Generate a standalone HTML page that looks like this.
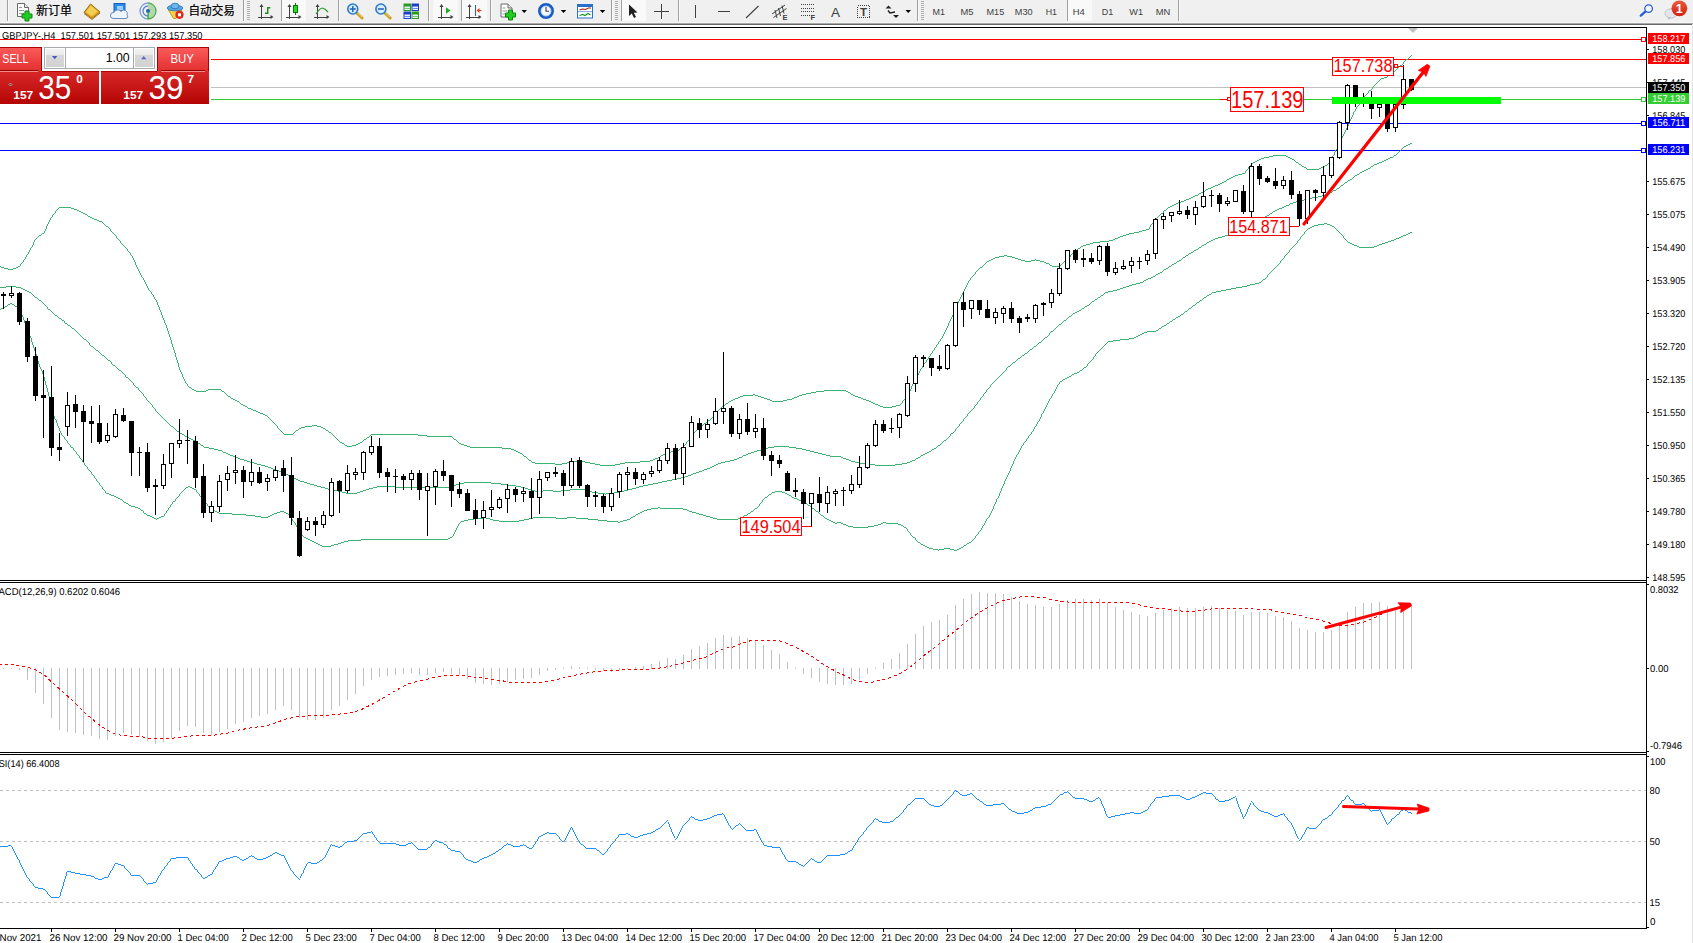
<!DOCTYPE html>
<html><head><meta charset="utf-8"><title>GBPJPY H4</title><style>html,body{margin:0;padding:0;background:#fff;overflow:hidden}svg{display:block}</style></head><body>
<svg width="1693" height="943" viewBox="0 0 1693 943" font-family="'Liberation Sans','Noto Sans CJK SC',sans-serif">
<defs><linearGradient id="gl" x1="0" y1="0" x2="0" y2="1"><stop offset="0" stop-color="#fb5a5a"/><stop offset="1" stop-color="#e23030"/></linearGradient><linearGradient id="gd" x1="0" y1="0" x2="0" y2="1"><stop offset="0" stop-color="#d92828"/><stop offset="1" stop-color="#b40404"/></linearGradient><linearGradient id="gb" x1="0" y1="0" x2="0" y2="1"><stop offset="0" stop-color="#f2f2f2"/><stop offset="0.3" stop-color="#ebebeb"/><stop offset="0.36" stop-color="#d8d8d8"/><stop offset="1" stop-color="#d2d2d2"/></linearGradient><linearGradient id="gbadge" x1="0" y1="0" x2="0" y2="1"><stop offset="0" stop-color="#e85a3a"/><stop offset="1" stop-color="#d42010"/></linearGradient><clipPath id="cpMain"><rect x="0" y="28" width="1646" height="552"/></clipPath></defs>
<rect x="0" y="0" width="1693" height="943" fill="#fff" />
<g>
<rect x="0" y="0" width="1693" height="23" fill="#f0f0f0"/>
<rect x="0" y="22" width="1693" height="1" fill="#f6f6f6" shape-rendering="crispEdges"/>
<rect x="0" y="23" width="1693" height="1" fill="#a8a8a8" shape-rendering="crispEdges"/>
<rect x="0" y="24" width="1693" height="1" fill="#696969" shape-rendering="crispEdges"/>
<rect x="7" y="0" width="1" height="21" fill="#a0a0a0" shape-rendering="crispEdges"/>
<rect x="8" y="0" width="1" height="21" fill="#fafafa" shape-rendering="crispEdges"/>
<path d="M17.5,3.5 h7 l4,4 v9 h-11 z" fill="#fff" stroke="#6a6a6a" stroke-width="1"/>
<path d="M24.5,3.5 v4 h4" fill="#e8e8e8" stroke="#6a6a6a" stroke-width="1"/>
<rect x="19" y="7" width="3" height="1" fill="#9a9a9a"/>
<rect x="19" y="10" width="5" height="1" fill="#9a9a9a"/>
<rect x="19" y="13" width="5" height="1" fill="#9a9a9a"/>
<path d="M25,11 h4 v3 h3 v4 h-3 v3 h-4 v-3 h-3 v-4 h3 z" fill="#22cc22" stroke="#0a8a0a" stroke-width="1"/>
<text x="36" y="14.7" font-size="12" fill="#000" textLength="36" stroke="#000" stroke-width="0.2" lengthAdjust="spacingAndGlyphs">新订单</text>
<polygon points="84,12.5 90.5,4 100,12 92,18.5" fill="#e2aa22" stroke="#9a6a10" stroke-width="1"/>
<polygon points="86,12 90.8,5.5 97.5,11.5 91.8,16" fill="#f4cf55"/>
<path d="M84,13.5 L92,19.5 L100,13" fill="none" stroke="#b07a18" stroke-width="1"/>
<rect x="114" y="3.5" width="11" height="9" fill="#2a8ae8" stroke="#1a60c0" stroke-width="1"/>
<rect x="117" y="6" width="6" height="4" fill="#9ad0ff"/>
<path d="M113,18.5 a3,3 0 0 1 1,-6 a4,4 0 0 1 7,-1 a3.5,3.5 0 0 1 6,3.5 a2,2 0 0 1 -1,3.5 z" fill="#eef4fc" stroke="#6a8ac0" stroke-width="1"/>
<g fill="none" stroke-width="1.3"><path d="M148,3 a8,8 0 0 0 0,16" stroke="#7a9ae0"/><path d="M148,6 a5,5 0 0 0 0,10" stroke="#5a80d8"/></g>
<path d="M148,11 L148,19 A8,8 0 0 0 153.5,5 A8,8 0 0 0 148,3 Z" fill="#a8d8a0" opacity="0.9"/>
<path d="M148,3 a8,8 0 0 1 0,16" fill="none" stroke="#58a858" stroke-width="1.3"/>
<circle cx="148" cy="11" r="2" fill="#2255cc"/>
<rect x="147.5" y="11" width="1.2" height="8" fill="#22aa22"/>
<polygon points="168.5,10 182,10 176,18.5 173.5,18.5" fill="#f6d44a" stroke="#c89a18" stroke-width="1"/>
<ellipse cx="175" cy="8" rx="7.8" ry="2.8" fill="#58a8e0" stroke="#2a70b8" stroke-width="0.8"/>
<ellipse cx="175" cy="6" rx="4" ry="2.8" fill="#6ab8ee" stroke="#2a70b8" stroke-width="0.8"/>
<circle cx="179.5" cy="14.8" r="4.1" fill="#dd2a1a"/>
<rect x="178" y="13.3" width="3" height="3" fill="#fff"/>
<text x="188.5" y="14.7" font-size="12" fill="#000" textLength="46.5" stroke="#000" stroke-width="0.2" lengthAdjust="spacingAndGlyphs">自动交易</text>
<rect x="243" y="0" width="1" height="21" fill="#a0a0a0" shape-rendering="crispEdges"/>
<rect x="244" y="0" width="1" height="21" fill="#fafafa" shape-rendering="crispEdges"/>
<rect x="247" y="1" width="3" height="1" fill="#b0b0b0" shape-rendering="crispEdges"/>
<rect x="247" y="3" width="3" height="1" fill="#b0b0b0" shape-rendering="crispEdges"/>
<rect x="247" y="5" width="3" height="1" fill="#b0b0b0" shape-rendering="crispEdges"/>
<rect x="247" y="7" width="3" height="1" fill="#b0b0b0" shape-rendering="crispEdges"/>
<rect x="247" y="9" width="3" height="1" fill="#b0b0b0" shape-rendering="crispEdges"/>
<rect x="247" y="11" width="3" height="1" fill="#b0b0b0" shape-rendering="crispEdges"/>
<rect x="247" y="13" width="3" height="1" fill="#b0b0b0" shape-rendering="crispEdges"/>
<rect x="247" y="15" width="3" height="1" fill="#b0b0b0" shape-rendering="crispEdges"/>
<rect x="247" y="17" width="3" height="1" fill="#b0b0b0" shape-rendering="crispEdges"/>
<rect x="247" y="19" width="3" height="1" fill="#b0b0b0" shape-rendering="crispEdges"/>
<g stroke="#404040" stroke-width="1" fill="none" shape-rendering="crispEdges"><line x1="261.5" y1="5" x2="261.5" y2="19"/><line x1="258" y1="17.0" x2="272" y2="17.0"/></g>
<polygon points="261.5,4 259.5,7 263.5,7" fill="#404040"/>
<polygon points="273.5,17.0 270.5,15.0 270.5,19.0" fill="#404040"/>
<g stroke="#1a8a1a" stroke-width="1.4" fill="none"><path d="M267.7,7 v7 M267.7,7.7 h2.6 M265,13.3 h2.7"/></g>
<rect x="281" y="0" width="1" height="21" fill="#a0a0a0" shape-rendering="crispEdges"/>
<rect x="282" y="0" width="1" height="21" fill="#fafafa" shape-rendering="crispEdges"/>
<rect x="283" y="0" width="23" height="21" fill="#f9f9f9"/>
<g stroke="#404040" stroke-width="1" fill="none" shape-rendering="crispEdges"><line x1="289.5" y1="5" x2="289.5" y2="19"/><line x1="286" y1="17.0" x2="300" y2="17.0"/></g>
<polygon points="289.5,4 287.5,7 291.5,7" fill="#404040"/>
<polygon points="301.5,17.0 298.5,15.0 298.5,19.0" fill="#404040"/>
<rect x="295" y="3" width="1" height="12" fill="#0a7a0a" shape-rendering="crispEdges"/>
<rect x="293.5" y="5.5" width="4" height="7" fill="#22dd22" stroke="#0a7a0a" stroke-width="1" shape-rendering="crispEdges"/>
<g stroke="#404040" stroke-width="1" fill="none" shape-rendering="crispEdges"><line x1="317.5" y1="5" x2="317.5" y2="19"/><line x1="314" y1="17.0" x2="328" y2="17.0"/></g>
<polygon points="317.5,4 315.5,7 319.5,7" fill="#404040"/>
<polygon points="329.5,17.0 326.5,15.0 326.5,19.0" fill="#404040"/>
<path d="M316,14 Q320,8 322.5,8 Q325,8.5 328,12" fill="none" stroke="#2a9a2a" stroke-width="1.2"/>
<rect x="338" y="0" width="1" height="21" fill="#a0a0a0" shape-rendering="crispEdges"/>
<rect x="339" y="0" width="1" height="21" fill="#fafafa" shape-rendering="crispEdges"/>
<line x1="356.8" y1="13" x2="362.1" y2="18" stroke="#c8a020" stroke-width="3" stroke-linecap="round"/>
<line x1="357.3" y1="12.8" x2="362.1" y2="17.3" stroke="#f0d878" stroke-width="1"/>
<circle cx="352.8" cy="9" r="5" fill="#d8ecfa" stroke="#2a7ad0" stroke-width="1.6"/>
<rect x="349.8" y="8.2" width="6" height="1.6" fill="#2a6ac0"/>
<rect x="352.0" y="6" width="1.6" height="6" fill="#2a6ac0"/>
<line x1="384.9" y1="13" x2="390.2" y2="18" stroke="#c8a020" stroke-width="3" stroke-linecap="round"/>
<line x1="385.4" y1="12.8" x2="390.2" y2="17.3" stroke="#f0d878" stroke-width="1"/>
<circle cx="380.9" cy="9" r="5" fill="#d8ecfa" stroke="#2a7ad0" stroke-width="1.6"/>
<rect x="377.9" y="8.2" width="6" height="1.6" fill="#2a6ac0"/>
<rect x="403.5" y="3.5" width="7.5" height="7.5" fill="#2a9a1a"/>
<rect x="404.5" y="6.5" width="5.5" height="3.5" fill="#e8f0ff"/>
<rect x="404.5" y="8.0" width="5.5" height="0.8" fill="#5ac040"/>
<rect x="411.5" y="3.5" width="7.5" height="7.5" fill="#1a40c8"/>
<rect x="412.5" y="6.5" width="5.5" height="3.5" fill="#e8f0ff"/>
<rect x="412.5" y="8.0" width="5.5" height="0.8" fill="#4a70e8"/>
<rect x="403.5" y="11.5" width="7.5" height="7.5" fill="#1a40c8"/>
<rect x="404.5" y="14.5" width="5.5" height="3.5" fill="#e8f0ff"/>
<rect x="404.5" y="16.0" width="5.5" height="0.8" fill="#4a70e8"/>
<rect x="411.5" y="11.5" width="7.5" height="7.5" fill="#2a9a1a"/>
<rect x="412.5" y="14.5" width="5.5" height="3.5" fill="#e8f0ff"/>
<rect x="412.5" y="16.0" width="5.5" height="0.8" fill="#5ac040"/>
<rect x="428" y="0" width="1" height="21" fill="#a0a0a0" shape-rendering="crispEdges"/>
<rect x="429" y="0" width="1" height="21" fill="#fafafa" shape-rendering="crispEdges"/>
<rect x="433" y="0" width="25" height="21" fill="#f9f9f9"/>
<g stroke="#404040" stroke-width="1" fill="none" shape-rendering="crispEdges"><line x1="441.5" y1="5" x2="441.5" y2="19"/><line x1="438" y1="17.0" x2="452" y2="17.0"/></g>
<polygon points="441.5,4 439.5,7 443.5,7" fill="#404040"/>
<polygon points="453.5,17.0 450.5,15.0 450.5,19.0" fill="#404040"/>
<polygon points="446,7.3 446,13.7 450.5,10.5" fill="#22aa22"/>
<rect x="461" y="0" width="1" height="21" fill="#a0a0a0" shape-rendering="crispEdges"/>
<rect x="462" y="0" width="1" height="21" fill="#fafafa" shape-rendering="crispEdges"/>
<rect x="463" y="0" width="24" height="21" fill="#f9f9f9"/>
<g stroke="#404040" stroke-width="1" fill="none" shape-rendering="crispEdges"><line x1="469.5" y1="5" x2="469.5" y2="19"/><line x1="466" y1="17.0" x2="480" y2="17.0"/></g>
<polygon points="469.5,4 467.5,7 471.5,7" fill="#404040"/>
<polygon points="481.5,17.0 478.5,15.0 478.5,19.0" fill="#404040"/>
<rect x="475" y="5" width="1" height="11" fill="#2060c0" shape-rendering="crispEdges"/>
<polygon points="476.5,10.5 479.5,8 479.5,13" fill="#e04010"/><rect x="479" y="10" width="2.5" height="1" fill="#e04010"/>
<rect x="490" y="0" width="1" height="21" fill="#a0a0a0" shape-rendering="crispEdges"/>
<rect x="491" y="0" width="1" height="21" fill="#fafafa" shape-rendering="crispEdges"/>
<path d="M501.0,4.0 h7 l4,4 v9 h-11 z" fill="#fff" stroke="#6a6a6a" stroke-width="1"/>
<path d="M508.0,4.0 v4 h4" fill="#e8e8e8" stroke="#6a6a6a" stroke-width="1"/>
<rect x="502.5" y="7.5" width="3" height="1" fill="#9a9a9a"/>
<rect x="502.5" y="10.5" width="5" height="1" fill="#9a9a9a"/>
<rect x="502.5" y="13.5" width="5" height="1" fill="#9a9a9a"/>
<path d="M508.5,10 h4 v3 h3 v4 h-3 v3 h-4 v-3 h-3 v-4 h3 z" fill="#22cc22" stroke="#0a8a0a" stroke-width="1"/>
<polygon points="521.5,10 527,10 524.25,13" fill="#000"/>
<circle cx="546" cy="11" r="6.6" fill="#fff" stroke="#1a5cc4" stroke-width="2.8"/>
<circle cx="546" cy="11" r="5" fill="#f4f8ff" stroke="#8ab8f4" stroke-width="0.8"/>
<path d="M546,7 v4.3 h3" fill="none" stroke="#404040" stroke-width="1.1"/>
<polygon points="560.8,10 566.3,10 563.55,13" fill="#000"/>
<rect x="577.5" y="4.5" width="15" height="13.5" fill="#fff" stroke="#2a70d0" stroke-width="1"/>
<rect x="577.5" y="4.5" width="15" height="2.5" fill="#2a70d0"/>
<rect x="578" y="11.3" width="14" height="0.8" fill="#5a90e0"/>
<path d="M579.5,10 l3,-1 l3,0.5 l3,-1.5 l2.5,0" fill="none" stroke="#b02010" stroke-width="1.2"/>
<path d="M579.5,15.5 l3,-1 l2.5,1 l3,-2 l2.5,1.5" fill="none" stroke="#1a9a1a" stroke-width="1.2"/>
<polygon points="599.8,10 605.3,10 602.55,13" fill="#000"/>
<rect x="611" y="0" width="1" height="21" fill="#a0a0a0" shape-rendering="crispEdges"/>
<rect x="612" y="0" width="1" height="21" fill="#fafafa" shape-rendering="crispEdges"/>
<rect x="615" y="1" width="3" height="1" fill="#b0b0b0" shape-rendering="crispEdges"/>
<rect x="615" y="3" width="3" height="1" fill="#b0b0b0" shape-rendering="crispEdges"/>
<rect x="615" y="5" width="3" height="1" fill="#b0b0b0" shape-rendering="crispEdges"/>
<rect x="615" y="7" width="3" height="1" fill="#b0b0b0" shape-rendering="crispEdges"/>
<rect x="615" y="9" width="3" height="1" fill="#b0b0b0" shape-rendering="crispEdges"/>
<rect x="615" y="11" width="3" height="1" fill="#b0b0b0" shape-rendering="crispEdges"/>
<rect x="615" y="13" width="3" height="1" fill="#b0b0b0" shape-rendering="crispEdges"/>
<rect x="615" y="15" width="3" height="1" fill="#b0b0b0" shape-rendering="crispEdges"/>
<rect x="615" y="17" width="3" height="1" fill="#b0b0b0" shape-rendering="crispEdges"/>
<rect x="615" y="19" width="3" height="1" fill="#b0b0b0" shape-rendering="crispEdges"/>
<rect x="621" y="0" width="1" height="21" fill="#a0a0a0" shape-rendering="crispEdges"/>
<rect x="622" y="0" width="1" height="21" fill="#fafafa" shape-rendering="crispEdges"/>
<rect x="623" y="0" width="23" height="21" fill="#f9f9f9"/>
<polygon points="629,4.5 629,16 631.8,13.6 634,18 636,17 633.8,12.8 637.5,12.6" fill="#202020"/>
<g fill="#404040" shape-rendering="crispEdges"><rect x="661" y="4" width="1" height="15"/><rect x="654" y="11" width="15" height="1"/></g>
<rect x="678" y="0" width="1" height="21" fill="#a0a0a0" shape-rendering="crispEdges"/>
<rect x="679" y="0" width="1" height="21" fill="#fafafa" shape-rendering="crispEdges"/>
<g fill="#404040" shape-rendering="crispEdges"><rect x="695" y="5" width="1" height="13"/><rect x="718" y="11" width="12" height="1"/></g>
<line x1="746" y1="18" x2="758.5" y2="6" stroke="#404040" stroke-width="1.1"/>
<g stroke="#404040" stroke-width="1" fill="none"><path d="M772,14 l13,-9 M773.5,17.5 l13,-9 M775,10 l2,8 M778.5,8 l2,8 M782,5.5 l2,8"/></g>
<text x="782.5" y="19.5" font-size="7.5" font-weight="bold" fill="#404040">E</text>
<line x1="801" y1="4.5" x2="814" y2="4.5" stroke="#404040" stroke-width="1" stroke-dasharray="1,1" shape-rendering="crispEdges"/>
<line x1="801" y1="8.5" x2="814" y2="8.5" stroke="#404040" stroke-width="1" stroke-dasharray="1,1" shape-rendering="crispEdges"/>
<line x1="801" y1="11.5" x2="814" y2="11.5" stroke="#404040" stroke-width="1" stroke-dasharray="1,1" shape-rendering="crispEdges"/>
<line x1="801" y1="15.5" x2="814" y2="15.5" stroke="#404040" stroke-width="1" stroke-dasharray="1,1" shape-rendering="crispEdges"/>
<text x="810.5" y="19.5" font-size="7.5" font-weight="bold" fill="#404040">F</text>
<text x="831" y="16.5" font-size="13.5" fill="#404040">A</text>
<rect x="857.5" y="5.5" width="12" height="12" fill="none" stroke="#404040" stroke-width="1" stroke-dasharray="1,1" shape-rendering="crispEdges"/>
<text x="860" y="16" font-size="11.5" font-weight="bold" fill="#404040">T</text>
<path d="M885.5,8.5 l3,-3 l3,3 z M893,15 l3,3 l3,-3 z" fill="#202020"/>
<path d="M888,10.5 l2,2.5 l5,-1" fill="none" stroke="#202020" stroke-width="1.4"/>
<polygon points="905.5,10 911,10 908.25,13" fill="#000"/>
<rect x="917" y="0" width="1" height="21" fill="#a0a0a0" shape-rendering="crispEdges"/>
<rect x="918" y="0" width="1" height="21" fill="#fafafa" shape-rendering="crispEdges"/>
<rect x="921" y="1" width="3" height="1" fill="#b0b0b0" shape-rendering="crispEdges"/>
<rect x="921" y="3" width="3" height="1" fill="#b0b0b0" shape-rendering="crispEdges"/>
<rect x="921" y="5" width="3" height="1" fill="#b0b0b0" shape-rendering="crispEdges"/>
<rect x="921" y="7" width="3" height="1" fill="#b0b0b0" shape-rendering="crispEdges"/>
<rect x="921" y="9" width="3" height="1" fill="#b0b0b0" shape-rendering="crispEdges"/>
<rect x="921" y="11" width="3" height="1" fill="#b0b0b0" shape-rendering="crispEdges"/>
<rect x="921" y="13" width="3" height="1" fill="#b0b0b0" shape-rendering="crispEdges"/>
<rect x="921" y="15" width="3" height="1" fill="#b0b0b0" shape-rendering="crispEdges"/>
<rect x="921" y="17" width="3" height="1" fill="#b0b0b0" shape-rendering="crispEdges"/>
<rect x="921" y="19" width="3" height="1" fill="#b0b0b0" shape-rendering="crispEdges"/>
<text x="932.5" y="15" font-size="9.8" fill="#404040" textLength="12.5" lengthAdjust="spacingAndGlyphs">M1</text>
<text x="960.5" y="15" font-size="9.8" fill="#404040" textLength="13" lengthAdjust="spacingAndGlyphs">M5</text>
<text x="986.5" y="15" font-size="9.8" fill="#404040" textLength="17.8" lengthAdjust="spacingAndGlyphs">M15</text>
<text x="1014.8" y="15" font-size="9.8" fill="#404040" textLength="17.8" lengthAdjust="spacingAndGlyphs">M30</text>
<text x="1045.7" y="15" font-size="9.8" fill="#404040" textLength="11.3" lengthAdjust="spacingAndGlyphs">H1</text>
<rect x="1067" y="0" width="1" height="21" fill="#a0a0a0" shape-rendering="crispEdges"/>
<rect x="1068" y="0" width="1" height="21" fill="#fafafa" shape-rendering="crispEdges"/>
<rect x="1069" y="0" width="23" height="21" fill="#f9f9f9"/>
<text x="1072.7" y="15" font-size="9.8" fill="#404040" textLength="12" lengthAdjust="spacingAndGlyphs">H4</text>
<text x="1101.8" y="15" font-size="9.8" fill="#404040" textLength="11.5" lengthAdjust="spacingAndGlyphs">D1</text>
<text x="1129.3" y="15" font-size="9.8" fill="#404040" textLength="13.7" lengthAdjust="spacingAndGlyphs">W1</text>
<text x="1155.8" y="15" font-size="9.8" fill="#404040" textLength="14.6" lengthAdjust="spacingAndGlyphs">MN</text>
<rect x="1178" y="0" width="1" height="21" fill="#a0a0a0" shape-rendering="crispEdges"/>
<rect x="1179" y="0" width="1" height="21" fill="#fafafa" shape-rendering="crispEdges"/>
<line x1="1640.8" y1="15.6" x2="1645.6" y2="11.4" stroke="#2a60d0" stroke-width="2.4" stroke-linecap="round"/>
<circle cx="1648.6" cy="8.6" r="3.8" fill="#f4f6ff" stroke="#2a60d0" stroke-width="1.3"/>
<ellipse cx="1671" cy="13.5" rx="6" ry="4.6" fill="#e4e6ee" stroke="#b8b8c0" stroke-width="0.8"/>
<polygon points="1668,17 1668.3,19.7 1671,17.5" fill="#b8b8c0"/>
<circle cx="1679.4" cy="8.3" r="7.9" fill="url(#gbadge)"/>
<text x="1679.3" y="13" font-size="12.5" font-weight="bold" fill="#fff" text-anchor="middle">1</text>
</g>
<g shape-rendering="crispEdges">
<rect x="0" y="27" width="1647" height="1" fill="#000" />
<rect x="1646" y="27" width="1" height="902" fill="#000" />
<rect x="0" y="580" width="1647" height="1" fill="#000" />
<rect x="0" y="582" width="1647" height="1" fill="#000" />
<rect x="0" y="752" width="1647" height="1" fill="#000" />
<rect x="0" y="754" width="1647" height="1" fill="#000" />
<rect x="0" y="928" width="1647" height="1" fill="#000" />
<rect x="1692" y="24" width="1" height="919" fill="#e3e3e3" />
</g>
<g clip-path="url(#cpMain)">
<g shape-rendering="crispEdges">
<rect x="0" y="39" width="1646" height="1" fill="#ff0000" />
<rect x="0" y="59" width="1646" height="1" fill="#ff0000" />
<rect x="0" y="87" width="1646" height="1" fill="#c0c0c0" />
<rect x="0" y="99" width="1646" height="1" fill="#32cd32" />
<rect x="0" y="123" width="1646" height="1" fill="#0000ff" />
<rect x="0" y="150" width="1646" height="1" fill="#0000ff" />
</g>
<g shape-rendering="crispEdges">
<path d="M1 267.5h3M4 268.5h4M8 269.5h5M13 268.5h3M16 267.5h2M18 266.5h2M39 235.5h2M42 233.5h2M59 207.5h12M71 208.5h3M74 209.5h3M77 210.5h2M79 211.5h2M81 212.5h2M83 213.5h2M85 214.5h2M88 216.5h2M90 217.5h2M92 218.5h2M94 219.5h3M97 220.5h2M99 221.5h3M106 226.5h2M189 387.5h2M192 389.5h2M194 390.5h2M196 391.5h10M206 390.5h2M208 389.5h13M222 391.5h2M228 396.5h2M231 398.5h2M233 399.5h2M235 400.5h2M237 401.5h2M241 404.5h2M243 405.5h2M245 406.5h2M248 408.5h3M251 409.5h2M253 410.5h3M256 411.5h2M258 412.5h2M260 413.5h3M263 414.5h2M265 415.5h2M284 434.5h9M296 430.5h2M299 428.5h2M301 427.5h4M305 426.5h7M312 425.5h5M317 426.5h4M321 427.5h2M323 428.5h2M326 430.5h2M329 432.5h2M340 442.5h2M342 443.5h2M345 445.5h2M347 446.5h5M352 445.5h4M356 444.5h2M358 443.5h2M360 442.5h2M364 439.5h2M367 437.5h2M371 434.5h47M418 435.5h9M427 436.5h25M454 439.5h2M459 443.5h2M461 444.5h3M464 445.5h3M467 446.5h3M470 447.5h32M502 448.5h9M511 449.5h3M514 450.5h2M516 451.5h2M518 452.5h2M520 453.5h2M524 456.5h2M529 460.5h2M532 462.5h3M535 463.5h20M555 464.5h7M562 463.5h5M567 462.5h6M573 461.5h12M585 462.5h5M590 463.5h5M595 464.5h5M600 465.5h15M615 464.5h5M620 463.5h5M625 462.5h15M640 461.5h10M650 460.5h3M653 459.5h2M655 458.5h3M658 457.5h2M661 455.5h2M663 454.5h2M665 453.5h2M667 452.5h4M671 451.5h5M676 450.5h3M681 447.5h2M701 425.5h2M704 423.5h2M708 420.5h2M722 406.5h2M726 403.5h2M729 401.5h2M731 400.5h2M733 399.5h2M735 398.5h3M738 397.5h2M740 396.5h3M743 395.5h10M753 394.5h2M755 395.5h3M758 396.5h3M761 397.5h3M764 398.5h3M767 399.5h3M770 400.5h2M772 401.5h11M783 400.5h4M787 399.5h5M792 398.5h2M794 397.5h3M797 396.5h2M799 395.5h3M802 394.5h4M806 393.5h5M811 392.5h5M816 391.5h8M824 390.5h22M846 391.5h2M848 392.5h2M851 394.5h2M853 395.5h2M855 396.5h3M858 397.5h3M861 398.5h2M863 399.5h3M866 400.5h3M869 401.5h2M871 402.5h2M873 403.5h2M875 404.5h3M878 405.5h2M880 406.5h3M883 407.5h9M892 406.5h4M896 405.5h4M980 267.5h2M987 261.5h2M989 260.5h2M991 259.5h2M993 258.5h2M995 257.5h4M999 256.5h5M1004 255.5h3M1007 256.5h5M1012 257.5h3M1015 258.5h3M1018 259.5h3M1021 260.5h4M1025 261.5h6M1031 260.5h4M1036 260.5h4M1040 261.5h4M1044 262.5h2M1046 263.5h3M1050 265.5h2M1052 266.5h8M1068 257.5h2M1075 250.5h2M1078 248.5h2M1081 246.5h2M1083 245.5h3M1086 244.5h4M1090 243.5h3M1093 242.5h7M1100 241.5h9M1109 240.5h4M1113 239.5h2M1115 238.5h3M1118 237.5h2M1120 236.5h3M1123 235.5h3M1126 234.5h3M1129 233.5h5M1134 232.5h5M1139 231.5h3M1142 230.5h4M1146 229.5h3M1161 213.5h2M1164 210.5h2M1168 207.5h2M1170 206.5h2M1172 205.5h2M1174 204.5h2M1176 203.5h2M1178 202.5h3M1181 201.5h3M1184 200.5h2M1186 199.5h3M1189 198.5h2M1191 197.5h2M1193 196.5h2M1195 195.5h3M1199 193.5h2M1201 192.5h2M1203 191.5h2M1206 189.5h2M1208 188.5h3M1211 187.5h2M1213 186.5h2M1215 185.5h3M1218 184.5h2M1220 183.5h2M1222 182.5h2M1224 181.5h2M1227 179.5h2M1229 178.5h2M1231 177.5h2M1233 176.5h2M1235 175.5h3M1238 174.5h4M1242 173.5h3M1253 162.5h2M1255 161.5h2M1257 160.5h2M1259 159.5h2M1261 158.5h3M1264 157.5h5M1269 156.5h4M1273 155.5h13M1286 156.5h2M1288 157.5h2M1290 158.5h2M1292 159.5h2M1296 162.5h2M1299 164.5h2M1302 166.5h2M1304 167.5h2M1307 169.5h12M1319 168.5h2M1321 167.5h2M1323 166.5h2M1325 165.5h2M1369 90.5h2M1381 78.5h3M1384 77.5h3M1389 74.5h2M1393 71.5h2M1400 65.5h2M1406 59.5h2M0.5 266v1M20.5 264v2M21.5 263v1M22.5 262v1M23.5 260v2M24.5 259v1M25.5 257v2M26.5 255v2M27.5 254v1M28.5 252v2M29.5 250v2M30.5 248v2M31.5 247v1M32.5 245v2M33.5 242v3M34.5 240v2M35.5 239v1M36.5 238v1M37.5 237v1M38.5 236v1M41.5 234v1M44.5 231v2M45.5 229v2M46.5 226v3M47.5 224v2M48.5 222v2M49.5 220v2M50.5 218v2M51.5 217v1M52.5 215v2M53.5 214v1M54.5 213v1M55.5 211v2M56.5 210v1M57.5 209v1M58.5 208v1M87.5 215v1M102.5 222v1M103.5 223v1M104.5 224v1M105.5 225v1M108.5 227v1M109.5 228v1M110.5 229v2M111.5 231v1M112.5 232v1M113.5 233v1M114.5 234v1M115.5 235v1M116.5 236v2M117.5 238v1M118.5 239v1M119.5 240v1M120.5 241v2M121.5 243v1M122.5 244v1M123.5 245v1M124.5 246v1M125.5 247v1M126.5 248v1M127.5 249v2M128.5 251v1M129.5 252v1M130.5 253v2M131.5 255v1M132.5 256v2M133.5 258v2M134.5 260v2M135.5 262v3M136.5 265v2M137.5 267v2M138.5 269v2M139.5 271v2M140.5 273v2M141.5 275v2M142.5 277v1M143.5 278v2M144.5 280v2M145.5 282v2M146.5 284v2M147.5 286v2M148.5 288v2M149.5 290v1M150.5 291v1M151.5 292v2M152.5 294v1M153.5 295v2M154.5 297v2M155.5 299v1M156.5 300v2M157.5 302v3M158.5 305v2M159.5 307v3M160.5 310v2M161.5 312v3M162.5 315v3M163.5 318v2M164.5 320v3M165.5 323v2M166.5 325v3M167.5 328v3M168.5 331v3M169.5 334v3M170.5 337v3M171.5 340v4M172.5 344v3M173.5 347v3M174.5 350v3M175.5 353v4M176.5 357v3M177.5 360v3M178.5 363v4M179.5 367v3M180.5 370v2M181.5 372v2M182.5 374v3M183.5 377v2M184.5 379v2M185.5 381v2M186.5 383v1M187.5 384v2M188.5 386v1M191.5 388v1M221.5 390v1M224.5 392v1M225.5 393v1M226.5 394v1M227.5 395v1M230.5 397v1M239.5 402v1M240.5 403v1M247.5 407v1M267.5 416v1M268.5 417v1M269.5 418v1M270.5 419v1M271.5 420v1M272.5 421v1M273.5 422v1M274.5 423v1M275.5 424v1M276.5 425v1M277.5 426v2M278.5 428v1M279.5 429v1M280.5 430v1M281.5 431v1M282.5 432v1M283.5 433v1M293.5 433v1M294.5 432v1M295.5 431v1M298.5 429v1M325.5 429v1M328.5 431v1M331.5 433v1M332.5 434v1M333.5 435v1M334.5 436v1M335.5 437v1M336.5 438v1M337.5 439v1M338.5 440v1M339.5 441v1M344.5 444v1M362.5 441v1M363.5 440v1M366.5 438v1M369.5 436v1M370.5 435v1M452.5 437v1M453.5 438v1M456.5 440v1M457.5 441v1M458.5 442v1M522.5 454v1M523.5 455v1M526.5 457v1M527.5 458v1M528.5 459v1M531.5 461v1M660.5 456v1M679.5 449v1M680.5 448v1M683.5 446v1M684.5 445v1M685.5 444v1M686.5 442v2M687.5 441v1M688.5 440v1M689.5 439v1M690.5 437v2M691.5 436v1M692.5 435v1M693.5 433v2M694.5 432v1M695.5 431v1M696.5 430v1M697.5 429v1M698.5 428v1M699.5 427v1M700.5 426v1M703.5 424v1M706.5 422v1M707.5 421v1M710.5 419v1M711.5 418v1M712.5 417v1M713.5 415v2M714.5 414v1M715.5 413v1M716.5 412v1M717.5 411v1M718.5 410v1M719.5 409v1M720.5 408v1M721.5 407v1M724.5 405v1M725.5 404v1M728.5 402v1M850.5 393v1M900.5 404v1M901.5 403v1M902.5 401v2M903.5 400v1M904.5 399v1M905.5 397v2M906.5 396v1M907.5 395v1M908.5 393v2M909.5 391v2M910.5 389v2M911.5 386v3M912.5 384v2M913.5 383v1M914.5 381v2M915.5 379v2M916.5 377v2M917.5 375v2M918.5 373v2M919.5 371v2M920.5 369v2M921.5 368v1M922.5 366v2M923.5 364v2M924.5 363v1M925.5 362v1M926.5 360v2M927.5 359v1M928.5 357v2M929.5 356v1M930.5 354v2M931.5 353v1M932.5 351v2M933.5 350v1M934.5 348v2M935.5 347v1M936.5 345v2M937.5 344v1M938.5 342v2M939.5 341v1M940.5 339v2M941.5 338v1M942.5 336v2M943.5 334v2M944.5 332v2M945.5 330v2M946.5 328v2M947.5 326v2M948.5 323v3M949.5 321v2M950.5 319v2M951.5 317v2M952.5 315v2M953.5 312v3M954.5 310v2M955.5 308v2M956.5 305v3M957.5 303v2M958.5 301v2M959.5 299v2M960.5 297v2M961.5 295v2M962.5 293v2M963.5 291v2M964.5 289v2M965.5 287v2M966.5 285v2M967.5 283v2M968.5 281v2M969.5 280v1M970.5 278v2M971.5 277v1M972.5 276v1M973.5 275v1M974.5 274v1M975.5 272v2M976.5 271v1M977.5 270v1M978.5 269v1M979.5 268v1M982.5 266v1M983.5 265v1M984.5 264v1M985.5 263v1M986.5 262v1M1035.5 259v1M1049.5 264v1M1060.5 265v1M1061.5 264v1M1062.5 263v1M1063.5 262v1M1064.5 261v1M1065.5 260v1M1066.5 259v1M1067.5 258v1M1070.5 255v2M1071.5 254v1M1072.5 253v1M1073.5 252v1M1074.5 251v1M1077.5 249v1M1080.5 247v1M1149.5 227v2M1150.5 225v2M1151.5 224v1M1152.5 223v1M1153.5 221v2M1154.5 220v1M1155.5 219v1M1156.5 218v1M1157.5 217v1M1158.5 216v1M1159.5 215v1M1160.5 214v1M1163.5 211v2M1166.5 209v1M1167.5 208v1M1198.5 194v1M1205.5 190v1M1226.5 180v1M1245.5 171v2M1246.5 170v1M1247.5 169v1M1248.5 167v2M1249.5 166v1M1250.5 165v1M1251.5 164v1M1252.5 163v1M1294.5 160v1M1295.5 161v1M1298.5 163v1M1301.5 165v1M1306.5 168v1M1327.5 164v1M1328.5 163v1M1329.5 161v2M1330.5 160v1M1331.5 158v2M1332.5 156v2M1333.5 155v1M1334.5 152v3M1335.5 150v2M1336.5 149v1M1337.5 147v2M1338.5 144v3M1339.5 142v2M1340.5 140v2M1341.5 138v2M1342.5 136v2M1343.5 134v2M1344.5 132v2M1345.5 130v2M1346.5 128v2M1347.5 126v2M1348.5 124v2M1349.5 121v3M1350.5 119v2M1351.5 117v2M1352.5 115v2M1353.5 112v3M1354.5 111v1M1355.5 109v2M1356.5 107v2M1357.5 106v1M1358.5 105v1M1359.5 103v2M1360.5 102v1M1361.5 100v2M1362.5 99v1M1363.5 98v1M1364.5 96v2M1365.5 95v1M1366.5 94v1M1367.5 93v1M1368.5 91v2M1371.5 89v1M1372.5 87v2M1373.5 86v1M1374.5 85v1M1375.5 84v1M1376.5 83v1M1377.5 82v1M1378.5 81v1M1379.5 80v1M1380.5 79v1M1387.5 76v1M1388.5 75v1M1391.5 73v1M1392.5 72v1M1395.5 70v1M1396.5 69v1M1397.5 68v1M1398.5 67v1M1399.5 66v1M1402.5 64v1M1403.5 62v2M1404.5 61v1M1405.5 60v1M1408.5 58v1M1409.5 57v1M1410.5 56v1M1411.5 55v1" fill="none" stroke="#3cb371" stroke-width="1" shape-rendering="crispEdges"/>
<path d="M0 287.5h6M6 286.5h10M16 287.5h5M21 288.5h2M23 289.5h2M25 290.5h2M27 291.5h2M29 292.5h2M35 297.5h2M39 300.5h2M48 309.5h2M55 315.5h2M59 318.5h2M62 320.5h2M65 323.5h2M68 325.5h2M72 328.5h2M84 339.5h2M91 346.5h2M96 350.5h2M102 355.5h2M108 360.5h2M113 365.5h2M119 370.5h2M126 377.5h2M136 387.5h2M171 426.5h2M177 431.5h2M180 433.5h2M182 434.5h2M185 436.5h2M187 437.5h2M189 438.5h2M191 439.5h2M193 440.5h2M196 442.5h2M198 443.5h2M201 445.5h2M204 447.5h5M209 448.5h5M214 449.5h4M218 450.5h4M223 452.5h3M226 453.5h2M228 454.5h2M230 455.5h3M233 456.5h2M235 457.5h3M238 458.5h2M240 459.5h4M244 460.5h3M247 461.5h3M250 462.5h4M254 463.5h3M257 464.5h4M261 465.5h4M265 466.5h3M268 467.5h3M271 468.5h2M273 469.5h3M276 470.5h3M279 471.5h3M282 472.5h2M285 474.5h3M288 475.5h2M290 476.5h2M292 477.5h2M294 478.5h2M296 479.5h2M298 480.5h2M300 481.5h4M304 482.5h3M307 483.5h3M310 484.5h4M314 485.5h3M317 486.5h4M321 487.5h4M325 488.5h3M328 489.5h5M333 490.5h5M338 491.5h4M342 492.5h4M346 493.5h11M357 492.5h3M360 491.5h3M363 490.5h3M366 489.5h3M369 488.5h4M373 487.5h4M377 486.5h19M396 487.5h54M450 486.5h3M453 485.5h3M456 484.5h4M460 483.5h4M464 482.5h27M491 483.5h10M501 484.5h7M508 485.5h8M516 486.5h5M521 487.5h4M525 488.5h3M528 489.5h4M532 490.5h3M535 491.5h8M543 490.5h10M553 491.5h8M561 490.5h9M570 489.5h15M585 490.5h3M588 491.5h4M592 492.5h6M598 493.5h7M606 493.5h8M614 492.5h6M620 491.5h4M624 490.5h4M628 489.5h4M632 488.5h4M636 487.5h3M639 486.5h4M643 485.5h5M648 484.5h5M653 483.5h5M658 482.5h4M662 481.5h5M667 480.5h5M672 479.5h5M677 478.5h4M681 477.5h4M685 476.5h3M688 475.5h3M691 474.5h2M693 473.5h3M696 472.5h3M699 471.5h3M702 470.5h2M704 469.5h3M707 468.5h3M710 467.5h2M712 466.5h2M714 465.5h2M716 464.5h2M718 463.5h3M721 462.5h4M725 461.5h5M730 460.5h4M734 459.5h3M737 458.5h2M739 457.5h3M743 455.5h3M746 454.5h2M748 453.5h3M751 452.5h3M754 451.5h3M757 450.5h4M761 449.5h3M764 448.5h4M768 447.5h6M774 446.5h15M789 447.5h7M796 448.5h6M802 449.5h4M806 450.5h4M810 451.5h4M814 452.5h4M818 453.5h4M822 454.5h4M826 455.5h4M830 456.5h11M841 457.5h2M843 458.5h3M846 459.5h3M849 460.5h2M851 461.5h4M855 462.5h4M859 463.5h8M867 464.5h8M875 465.5h20M895 464.5h7M902 463.5h5M907 462.5h3M910 461.5h2M912 460.5h3M916 458.5h2M918 457.5h2M921 455.5h2M923 454.5h2M925 453.5h2M927 452.5h2M929 451.5h2M932 449.5h2M934 448.5h2M938 445.5h2M944 440.5h2M951 433.5h2M1008 366.5h2M1013 362.5h2M1018 358.5h2M1022 355.5h2M1025 353.5h2M1030 349.5h2M1034 346.5h2M1039 342.5h2M1045 337.5h2M1051 331.5h2M1059 324.5h2M1064 320.5h2M1069 316.5h2M1073 313.5h2M1075 312.5h2M1077 311.5h2M1079 310.5h2M1082 308.5h2M1085 306.5h2M1087 305.5h2M1092 301.5h2M1095 299.5h2M1098 297.5h2M1101 295.5h2M1105 292.5h3M1108 291.5h5M1113 290.5h4M1117 289.5h3M1120 288.5h3M1123 287.5h3M1126 286.5h3M1129 285.5h3M1132 284.5h4M1136 283.5h4M1140 282.5h3M1144 280.5h2M1146 279.5h2M1148 278.5h3M1151 277.5h2M1153 276.5h2M1156 274.5h2M1158 273.5h2M1160 272.5h2M1164 269.5h2M1166 268.5h2M1169 266.5h2M1172 264.5h2M1174 263.5h2M1177 261.5h2M1179 260.5h2M1183 257.5h2M1186 255.5h2M1189 253.5h2M1191 252.5h2M1194 250.5h2M1196 249.5h2M1199 247.5h2M1202 245.5h2M1204 244.5h2M1207 242.5h2M1209 241.5h2M1211 240.5h2M1213 239.5h2M1215 238.5h3M1218 237.5h4M1222 236.5h3M1225 235.5h3M1228 234.5h4M1232 233.5h4M1236 232.5h4M1240 231.5h3M1243 230.5h2M1246 228.5h2M1249 226.5h2M1251 225.5h2M1253 224.5h2M1256 222.5h2M1259 220.5h2M1262 218.5h2M1265 216.5h2M1267 215.5h2M1270 213.5h2M1273 211.5h2M1275 210.5h2M1277 209.5h2M1279 208.5h3M1282 207.5h2M1284 206.5h2M1286 205.5h3M1290 203.5h3M1293 202.5h3M1296 201.5h4M1300 200.5h4M1304 199.5h4M1308 198.5h4M1312 197.5h6M1318 196.5h4M1322 195.5h3M1325 194.5h2M1327 193.5h3M1330 192.5h2M1333 190.5h3M1337 188.5h2M1341 185.5h2M1345 182.5h2M1348 180.5h2M1350 179.5h2M1355 175.5h2M1357 174.5h2M1360 172.5h2M1362 171.5h2M1364 170.5h2M1366 169.5h2M1368 168.5h2M1371 166.5h2M1374 164.5h3M1377 163.5h2M1379 162.5h3M1382 161.5h2M1384 160.5h2M1386 159.5h2M1388 158.5h2M1390 157.5h3M1394 155.5h2M1404 146.5h2M1406 145.5h2M1408 144.5h2M1410 143.5h2M31.5 293v1M32.5 294v1M33.5 295v1M34.5 296v1M37.5 298v1M38.5 299v1M41.5 301v1M42.5 302v1M43.5 303v1M44.5 304v1M45.5 305v1M46.5 306v1M47.5 307v2M50.5 310v1M51.5 311v1M52.5 312v1M53.5 313v1M54.5 314v1M57.5 316v1M58.5 317v1M61.5 319v1M64.5 321v2M67.5 324v1M70.5 326v1M71.5 327v1M74.5 329v1M75.5 330v1M76.5 331v1M77.5 332v1M78.5 333v1M79.5 334v1M80.5 335v1M81.5 336v1M82.5 337v1M83.5 338v1M86.5 340v1M87.5 341v1M88.5 342v1M89.5 343v2M90.5 345v1M93.5 347v1M94.5 348v1M95.5 349v1M98.5 351v1M99.5 352v1M100.5 353v1M101.5 354v1M104.5 356v1M105.5 357v1M106.5 358v1M107.5 359v1M110.5 361v1M111.5 362v2M112.5 364v1M115.5 366v1M116.5 367v1M117.5 368v1M118.5 369v1M121.5 371v1M122.5 372v1M123.5 373v1M124.5 374v1M125.5 375v2M128.5 378v1M129.5 379v1M130.5 380v1M131.5 381v1M132.5 382v1M133.5 383v2M134.5 385v1M135.5 386v1M138.5 388v2M139.5 390v1M140.5 391v1M141.5 392v1M142.5 393v1M143.5 394v2M144.5 396v1M145.5 397v1M146.5 398v2M147.5 400v1M148.5 401v1M149.5 402v1M150.5 403v1M151.5 404v1M152.5 405v2M153.5 407v1M154.5 408v1M155.5 409v2M156.5 411v1M157.5 412v1M158.5 413v1M159.5 414v1M160.5 415v1M161.5 416v1M162.5 417v1M163.5 418v1M164.5 419v1M165.5 420v1M166.5 421v1M167.5 422v1M168.5 423v1M169.5 424v1M170.5 425v1M173.5 427v1M174.5 428v1M175.5 429v1M176.5 430v1M179.5 432v1M184.5 435v1M195.5 441v1M200.5 444v1M203.5 446v1M222.5 451v1M284.5 473v1M605.5 494v1M742.5 456v1M915.5 459v1M920.5 456v1M931.5 450v1M936.5 447v1M937.5 446v1M940.5 444v1M941.5 443v1M942.5 442v1M943.5 441v1M946.5 439v1M947.5 438v1M948.5 437v1M949.5 436v1M950.5 434v2M953.5 432v1M954.5 431v1M955.5 429v2M956.5 428v1M957.5 427v1M958.5 426v1M959.5 424v2M960.5 423v1M961.5 422v1M962.5 421v1M963.5 419v2M964.5 418v1M965.5 417v1M966.5 416v1M967.5 414v2M968.5 413v1M969.5 412v1M970.5 411v1M971.5 410v1M972.5 409v1M973.5 408v1M974.5 406v2M975.5 405v1M976.5 404v1M977.5 402v2M978.5 401v1M979.5 400v1M980.5 398v2M981.5 397v1M982.5 396v1M983.5 394v2M984.5 393v1M985.5 392v1M986.5 390v2M987.5 389v1M988.5 388v1M989.5 387v1M990.5 385v2M991.5 384v1M992.5 383v1M993.5 382v1M994.5 381v1M995.5 380v1M996.5 379v1M997.5 378v1M998.5 377v1M999.5 376v1M1000.5 375v1M1001.5 374v1M1002.5 373v1M1003.5 372v1M1004.5 371v1M1005.5 370v1M1006.5 368v2M1007.5 367v1M1010.5 365v1M1011.5 364v1M1012.5 363v1M1015.5 361v1M1016.5 360v1M1017.5 359v1M1020.5 357v1M1021.5 356v1M1024.5 354v1M1027.5 352v1M1028.5 351v1M1029.5 350v1M1032.5 348v1M1033.5 347v1M1036.5 345v1M1037.5 344v1M1038.5 343v1M1041.5 341v1M1042.5 340v1M1043.5 339v1M1044.5 338v1M1047.5 336v1M1048.5 335v1M1049.5 333v2M1050.5 332v1M1053.5 330v1M1054.5 329v1M1055.5 328v1M1056.5 327v1M1057.5 326v1M1058.5 325v1M1061.5 323v1M1062.5 322v1M1063.5 321v1M1066.5 319v1M1067.5 318v1M1068.5 317v1M1071.5 315v1M1072.5 314v1M1081.5 309v1M1084.5 307v1M1089.5 304v1M1090.5 303v1M1091.5 302v1M1094.5 300v1M1097.5 298v1M1100.5 296v1M1103.5 294v1M1104.5 293v1M1143.5 281v1M1155.5 275v1M1162.5 271v1M1163.5 270v1M1168.5 267v1M1171.5 265v1M1176.5 262v1M1181.5 259v1M1182.5 258v1M1185.5 256v1M1188.5 254v1M1193.5 251v1M1198.5 248v1M1201.5 246v1M1206.5 243v1M1245.5 229v1M1248.5 227v1M1255.5 223v1M1258.5 221v1M1261.5 219v1M1264.5 217v1M1269.5 214v1M1272.5 212v1M1289.5 204v1M1332.5 191v1M1336.5 189v1M1339.5 187v1M1340.5 186v1M1343.5 184v1M1344.5 183v1M1347.5 181v1M1352.5 178v1M1353.5 177v1M1354.5 176v1M1359.5 173v1M1370.5 167v1M1373.5 165v1M1393.5 156v1M1396.5 154v1M1397.5 153v1M1398.5 152v1M1399.5 151v1M1400.5 150v1M1401.5 149v1M1402.5 148v1M1403.5 147v1" fill="none" stroke="#3cb371" stroke-width="1" shape-rendering="crispEdges"/>
<path d="M1 308.5h2M3 307.5h2M5 306.5h2M8 304.5h2M10 303.5h2M12 304.5h2M15 306.5h2M71 447.5h2M106 493.5h3M109 494.5h2M111 495.5h3M114 496.5h2M116 497.5h2M118 498.5h2M120 499.5h2M124 502.5h2M126 503.5h2M129 505.5h2M131 506.5h4M135 507.5h3M138 508.5h2M141 510.5h2M144 513.5h2M147 515.5h3M150 516.5h2M152 517.5h2M154 518.5h2M157 518.5h2M159 517.5h2M161 516.5h3M173 501.5h2M186 487.5h2M188 486.5h2M190 487.5h2M192 488.5h2M194 489.5h2M209 507.5h2M211 508.5h2M215 511.5h2M217 512.5h2M219 513.5h13M232 514.5h14M246 515.5h9M255 516.5h6M261 517.5h7M268 516.5h2M270 515.5h2M272 514.5h2M274 513.5h3M277 512.5h3M280 511.5h4M284 512.5h2M286 513.5h2M304 537.5h2M306 538.5h2M308 539.5h2M310 540.5h2M312 541.5h2M314 542.5h2M316 543.5h2M318 544.5h2M320 545.5h2M322 546.5h9M331 545.5h3M334 544.5h4M338 543.5h3M341 542.5h3M344 541.5h4M348 540.5h13M361 539.5h87M448 538.5h2M450 537.5h2M461 521.5h3M464 520.5h4M468 519.5h6M474 518.5h10M484 517.5h2M486 518.5h4M490 519.5h3M493 520.5h6M499 521.5h20M519 520.5h5M524 519.5h5M529 518.5h4M533 517.5h23M556 518.5h11M567 517.5h9M576 518.5h12M588 519.5h10M598 520.5h9M607 521.5h11M618 522.5h2M620 521.5h3M623 520.5h4M627 519.5h3M631 517.5h2M633 516.5h2M636 514.5h2M638 513.5h2M640 512.5h2M642 511.5h2M644 510.5h3M647 509.5h4M651 508.5h7M658 507.5h2M660 508.5h23M683 509.5h4M687 510.5h2M689 511.5h3M692 512.5h4M696 513.5h3M699 514.5h4M703 515.5h3M706 516.5h4M710 517.5h3M713 518.5h4M717 519.5h21M738 518.5h2M740 517.5h3M744 515.5h3M748 513.5h2M751 511.5h2M755 508.5h2M765 497.5h2M769 494.5h2M772 492.5h3M775 491.5h7M782 492.5h3M785 493.5h2M787 494.5h2M789 495.5h2M792 497.5h2M794 498.5h3M797 499.5h2M799 500.5h2M801 501.5h2M803 502.5h2M805 503.5h2M808 505.5h2M812 508.5h2M816 511.5h2M821 515.5h2M825 518.5h2M827 519.5h2M829 520.5h2M831 521.5h2M833 522.5h2M835 523.5h2M837 522.5h4M841 523.5h2M843 524.5h3M846 525.5h2M848 526.5h5M853 527.5h15M868 526.5h6M874 525.5h4M878 524.5h3M881 523.5h2M883 522.5h3M886 523.5h12M898 524.5h3M901 525.5h2M904 527.5h2M913 537.5h2M918 542.5h2M921 544.5h2M923 545.5h2M925 546.5h2M927 547.5h2M929 548.5h4M933 549.5h5M939 549.5h5M944 548.5h6M950 549.5h4M954 550.5h3M957 549.5h2M959 548.5h2M961 547.5h2M964 545.5h2M967 543.5h2M969 542.5h2M1060 381.5h2M1063 379.5h2M1065 378.5h2M1067 377.5h2M1069 376.5h2M1072 374.5h2M1074 373.5h3M1077 372.5h2M1080 370.5h2M1084 367.5h2M1108 341.5h5M1113 340.5h7M1120 339.5h9M1129 338.5h5M1134 337.5h2M1136 336.5h2M1138 335.5h2M1140 334.5h2M1142 333.5h2M1144 332.5h3M1147 331.5h9M1156 330.5h2M1159 328.5h2M1162 326.5h2M1164 325.5h2M1167 323.5h2M1170 321.5h2M1173 319.5h2M1176 317.5h2M1178 316.5h2M1181 314.5h2M1185 311.5h2M1189 308.5h2M1193 305.5h2M1197 302.5h2M1200 300.5h2M1204 297.5h2M1207 295.5h2M1209 294.5h2M1212 292.5h4M1216 291.5h5M1221 290.5h5M1226 289.5h5M1231 288.5h5M1236 287.5h6M1242 286.5h5M1247 285.5h3M1250 284.5h5M1255 283.5h4M1259 282.5h2M1263 279.5h2M1308 228.5h2M1310 227.5h2M1312 226.5h2M1314 225.5h4M1318 224.5h6M1324 223.5h3M1327 224.5h3M1330 225.5h2M1332 226.5h2M1348 242.5h2M1350 243.5h2M1352 244.5h2M1354 245.5h3M1357 246.5h2M1359 247.5h15M1374 246.5h3M1377 245.5h2M1379 244.5h3M1382 243.5h3M1385 242.5h3M1388 241.5h3M1391 240.5h3M1394 239.5h2M1396 238.5h3M1399 237.5h2M1401 236.5h2M1403 235.5h3M1406 234.5h2M1408 233.5h2M1410 232.5h2M0.5 309v1M7.5 305v1M14.5 305v1M17.5 307v1M18.5 308v2M19.5 310v2M20.5 312v1M21.5 313v2M22.5 315v2M23.5 317v3M24.5 320v3M25.5 323v2M26.5 325v3M27.5 328v2M28.5 330v3M29.5 333v3M30.5 336v2M31.5 338v4M32.5 342v3M33.5 345v3M34.5 348v3M35.5 351v3M36.5 354v3M37.5 357v4M38.5 361v3M39.5 364v3M40.5 367v2M41.5 369v2M42.5 371v3M43.5 374v3M44.5 377v4M45.5 381v4M46.5 385v3M47.5 388v4M48.5 392v4M49.5 396v3M50.5 399v4M51.5 403v5M52.5 408v4M53.5 412v4M54.5 416v3M55.5 419v1M56.5 420v3M57.5 423v3M58.5 426v2M59.5 428v3M60.5 431v2M61.5 433v2M62.5 435v1M63.5 436v1M64.5 437v2M65.5 439v1M66.5 440v1M67.5 441v2M68.5 443v1M69.5 444v1M70.5 445v2M73.5 448v2M74.5 450v1M75.5 451v1M76.5 452v2M77.5 454v1M78.5 455v1M79.5 456v2M80.5 458v1M81.5 459v1M82.5 460v2M83.5 462v1M84.5 463v2M85.5 465v1M86.5 466v1M87.5 467v2M88.5 469v1M89.5 470v1M90.5 471v1M91.5 472v2M92.5 474v1M93.5 475v1M94.5 476v2M95.5 478v1M96.5 479v2M97.5 481v1M98.5 482v1M99.5 483v2M100.5 485v1M101.5 486v1M102.5 487v2M103.5 489v1M104.5 490v1M105.5 491v2M122.5 500v1M123.5 501v1M128.5 504v1M140.5 509v1M143.5 511v2M146.5 514v1M156.5 519v1M164.5 514v2M165.5 513v1M166.5 511v2M167.5 510v1M168.5 508v2M169.5 507v1M170.5 505v2M171.5 504v1M172.5 502v2M175.5 499v2M176.5 498v1M177.5 497v1M178.5 496v1M179.5 494v2M180.5 493v1M181.5 492v1M182.5 491v1M183.5 490v1M184.5 489v1M185.5 488v1M196.5 490v2M197.5 492v1M198.5 493v1M199.5 494v2M200.5 496v1M201.5 497v2M202.5 499v1M203.5 500v1M204.5 501v1M205.5 502v1M206.5 503v1M207.5 504v2M208.5 506v1M213.5 509v1M214.5 510v1M288.5 514v1M289.5 515v1M290.5 516v1M291.5 517v2M292.5 519v2M293.5 521v1M294.5 522v1M295.5 523v2M296.5 525v2M297.5 527v2M298.5 529v2M299.5 531v2M300.5 533v1M301.5 534v1M302.5 535v1M303.5 536v1M452.5 536v1M453.5 534v2M454.5 532v2M455.5 530v2M456.5 528v2M457.5 526v2M458.5 524v2M459.5 523v1M460.5 522v1M630.5 518v1M635.5 515v1M743.5 516v1M747.5 514v1M750.5 512v1M753.5 510v1M754.5 509v1M757.5 507v1M758.5 506v1M759.5 504v2M760.5 503v1M761.5 502v1M762.5 500v2M763.5 499v1M764.5 498v1M767.5 496v1M768.5 495v1M771.5 493v1M791.5 496v1M807.5 504v1M810.5 506v1M811.5 507v1M814.5 509v1M815.5 510v1M818.5 512v1M819.5 513v1M820.5 514v1M823.5 516v1M824.5 517v1M903.5 526v1M906.5 528v1M907.5 529v2M908.5 531v1M909.5 532v1M910.5 533v2M911.5 535v1M912.5 536v1M915.5 538v2M916.5 540v1M917.5 541v1M920.5 543v1M938.5 550v1M963.5 546v1M966.5 544v1M971.5 541v1M972.5 540v1M973.5 539v1M974.5 538v1M975.5 536v2M976.5 535v1M977.5 534v1M978.5 532v2M979.5 531v1M980.5 530v1M981.5 528v2M982.5 526v2M983.5 525v1M984.5 523v2M985.5 521v2M986.5 519v2M987.5 518v1M988.5 517v1M989.5 515v2M990.5 513v2M991.5 511v2M992.5 509v2M993.5 506v3M994.5 504v2M995.5 502v2M996.5 499v3M997.5 498v1M998.5 496v2M999.5 493v3M1000.5 491v2M1001.5 488v3M1002.5 486v2M1003.5 484v2M1004.5 481v3M1005.5 479v2M1006.5 477v2M1007.5 475v2M1008.5 473v2M1009.5 471v2M1010.5 468v3M1011.5 466v2M1012.5 464v2M1013.5 461v3M1014.5 459v2M1015.5 457v2M1016.5 455v2M1017.5 454v1M1018.5 452v2M1019.5 450v2M1020.5 448v2M1021.5 446v2M1022.5 445v1M1023.5 443v2M1024.5 442v1M1025.5 441v1M1026.5 439v2M1027.5 438v1M1028.5 436v2M1029.5 435v1M1030.5 434v1M1031.5 432v2M1032.5 431v1M1033.5 429v2M1034.5 427v2M1035.5 426v1M1036.5 424v2M1037.5 422v2M1038.5 421v1M1039.5 419v2M1040.5 417v2M1041.5 414v3M1042.5 413v1M1043.5 411v2M1044.5 409v2M1045.5 407v2M1046.5 405v2M1047.5 403v2M1048.5 401v2M1049.5 399v2M1050.5 398v1M1051.5 396v2M1052.5 394v2M1053.5 393v1M1054.5 391v2M1055.5 389v2M1056.5 387v2M1057.5 385v2M1058.5 384v1M1059.5 382v2M1062.5 380v1M1071.5 375v1M1079.5 371v1M1082.5 369v1M1083.5 368v1M1086.5 366v1M1087.5 364v2M1088.5 363v1M1089.5 362v1M1090.5 361v1M1091.5 360v1M1092.5 359v1M1093.5 357v2M1094.5 356v1M1095.5 354v2M1096.5 353v1M1097.5 352v1M1098.5 351v1M1099.5 350v1M1100.5 349v1M1101.5 348v1M1102.5 347v1M1103.5 346v1M1104.5 345v1M1105.5 344v1M1106.5 343v1M1107.5 342v1M1158.5 329v1M1161.5 327v1M1166.5 324v1M1169.5 322v1M1172.5 320v1M1175.5 318v1M1180.5 315v1M1183.5 313v1M1184.5 312v1M1187.5 310v1M1188.5 309v1M1191.5 307v1M1192.5 306v1M1195.5 304v1M1196.5 303v1M1199.5 301v1M1202.5 299v1M1203.5 298v1M1206.5 296v1M1211.5 293v1M1261.5 281v1M1262.5 280v1M1265.5 278v1M1266.5 277v1M1267.5 275v2M1268.5 274v1M1269.5 273v1M1270.5 272v1M1271.5 271v1M1272.5 270v1M1273.5 269v1M1274.5 268v1M1275.5 267v1M1276.5 266v1M1277.5 265v1M1278.5 264v1M1279.5 263v1M1280.5 261v2M1281.5 260v1M1282.5 259v1M1283.5 258v1M1284.5 256v2M1285.5 255v1M1286.5 254v1M1287.5 253v1M1288.5 252v1M1289.5 250v2M1290.5 249v1M1291.5 248v1M1292.5 247v1M1293.5 246v1M1294.5 245v1M1295.5 244v1M1296.5 243v1M1297.5 241v2M1298.5 240v1M1299.5 239v1M1300.5 237v2M1301.5 236v1M1302.5 235v1M1303.5 234v1M1304.5 232v2M1305.5 231v1M1306.5 230v1M1307.5 229v1M1334.5 227v1M1335.5 228v1M1336.5 229v1M1337.5 230v1M1338.5 231v1M1339.5 232v1M1340.5 233v1M1341.5 234v1M1342.5 235v1M1343.5 236v2M1344.5 238v1M1345.5 239v1M1346.5 240v1M1347.5 241v1" fill="none" stroke="#3cb371" stroke-width="1" shape-rendering="crispEdges"/>
</g>
<g shape-rendering="crispEdges">
<rect x="3" y="292" width="1" height="17" fill="#000" />
<rect x="1" y="294" width="5" height="2" fill="#000" />
<rect x="11" y="286" width="1" height="12" fill="#000" />
<rect x="9" y="293" width="5" height="3" fill="#000" />
<rect x="10" y="294" width="3" height="1" fill="#fff" />
<rect x="19" y="292" width="1" height="33" fill="#000" />
<rect x="17" y="293" width="5" height="29" fill="#000" />
<rect x="27" y="318" width="1" height="44" fill="#000" />
<rect x="25" y="321" width="5" height="36" fill="#000" />
<rect x="35" y="347" width="1" height="54" fill="#000" />
<rect x="33" y="356" width="5" height="40" fill="#000" />
<rect x="43" y="370" width="1" height="68" fill="#000" />
<rect x="41" y="395" width="5" height="3" fill="#000" />
<rect x="51" y="366" width="1" height="90" fill="#000" />
<rect x="49" y="397" width="5" height="51" fill="#000" />
<rect x="59" y="433" width="1" height="28" fill="#000" />
<rect x="57" y="447" width="5" height="3" fill="#000" />
<rect x="67" y="392" width="1" height="44" fill="#000" />
<rect x="65" y="405" width="5" height="22" fill="#000" />
<rect x="66" y="406" width="3" height="20" fill="#fff" />
<rect x="75" y="395" width="1" height="33" fill="#000" />
<rect x="73" y="404" width="5" height="8" fill="#000" />
<rect x="83" y="405" width="1" height="57" fill="#000" />
<rect x="81" y="411" width="5" height="11" fill="#000" />
<rect x="91" y="406" width="1" height="37" fill="#000" />
<rect x="89" y="421" width="5" height="3" fill="#000" />
<rect x="99" y="405" width="1" height="39" fill="#000" />
<rect x="97" y="423" width="5" height="19" fill="#000" />
<rect x="107" y="423" width="1" height="20" fill="#000" />
<rect x="105" y="435" width="5" height="6" fill="#000" />
<rect x="106" y="436" width="3" height="4" fill="#fff" />
<rect x="115" y="409" width="1" height="29" fill="#000" />
<rect x="113" y="414" width="5" height="23" fill="#000" />
<rect x="114" y="415" width="3" height="21" fill="#fff" />
<rect x="123" y="408" width="1" height="14" fill="#000" />
<rect x="121" y="415" width="5" height="6" fill="#000" />
<rect x="131" y="421" width="1" height="55" fill="#000" />
<rect x="129" y="421" width="5" height="32" fill="#000" />
<rect x="139" y="447" width="1" height="29" fill="#000" />
<rect x="137" y="452" width="5" height="1" fill="#000" />
<rect x="147" y="443" width="1" height="49" fill="#000" />
<rect x="145" y="452" width="5" height="36" fill="#000" />
<rect x="155" y="479" width="1" height="36" fill="#000" />
<rect x="153" y="485" width="5" height="2" fill="#000" />
<rect x="163" y="454" width="1" height="35" fill="#000" />
<rect x="161" y="464" width="5" height="22" fill="#000" />
<rect x="162" y="465" width="3" height="20" fill="#fff" />
<rect x="171" y="443" width="1" height="35" fill="#000" />
<rect x="169" y="443" width="5" height="21" fill="#000" />
<rect x="170" y="444" width="3" height="19" fill="#fff" />
<rect x="179" y="419" width="1" height="29" fill="#000" />
<rect x="177" y="440" width="5" height="4" fill="#000" />
<rect x="178" y="441" width="3" height="2" fill="#fff" />
<rect x="187" y="430" width="1" height="34" fill="#000" />
<rect x="185" y="440" width="5" height="1" fill="#000" />
<rect x="195" y="436" width="1" height="52" fill="#000" />
<rect x="193" y="441" width="5" height="37" fill="#000" />
<rect x="203" y="464" width="1" height="54" fill="#000" />
<rect x="201" y="476" width="5" height="37" fill="#000" />
<rect x="211" y="501" width="1" height="21" fill="#000" />
<rect x="209" y="506" width="5" height="7" fill="#000" />
<rect x="210" y="507" width="3" height="5" fill="#fff" />
<rect x="219" y="475" width="1" height="37" fill="#000" />
<rect x="217" y="481" width="5" height="26" fill="#000" />
<rect x="218" y="482" width="3" height="24" fill="#fff" />
<rect x="227" y="466" width="1" height="25" fill="#000" />
<rect x="225" y="473" width="5" height="7" fill="#000" />
<rect x="226" y="474" width="3" height="5" fill="#fff" />
<rect x="235" y="455" width="1" height="29" fill="#000" />
<rect x="233" y="470" width="5" height="3" fill="#000" />
<rect x="234" y="471" width="3" height="1" fill="#fff" />
<rect x="243" y="466" width="1" height="32" fill="#000" />
<rect x="241" y="470" width="5" height="12" fill="#000" />
<rect x="251" y="459" width="1" height="27" fill="#000" />
<rect x="249" y="472" width="5" height="10" fill="#000" />
<rect x="250" y="473" width="3" height="8" fill="#fff" />
<rect x="259" y="467" width="1" height="17" fill="#000" />
<rect x="257" y="472" width="5" height="11" fill="#000" />
<rect x="267" y="474" width="1" height="17" fill="#000" />
<rect x="265" y="478" width="5" height="4" fill="#000" />
<rect x="266" y="479" width="3" height="2" fill="#fff" />
<rect x="275" y="466" width="1" height="15" fill="#000" />
<rect x="273" y="470" width="5" height="8" fill="#000" />
<rect x="274" y="471" width="3" height="6" fill="#fff" />
<rect x="283" y="460" width="1" height="32" fill="#000" />
<rect x="281" y="468" width="5" height="8" fill="#000" />
<rect x="291" y="457" width="1" height="68" fill="#000" />
<rect x="289" y="475" width="5" height="43" fill="#000" />
<rect x="299" y="511" width="1" height="46" fill="#000" />
<rect x="297" y="518" width="5" height="38" fill="#000" />
<rect x="307" y="517" width="1" height="14" fill="#000" />
<rect x="305" y="521" width="5" height="9" fill="#000" />
<rect x="306" y="522" width="3" height="7" fill="#fff" />
<rect x="315" y="517" width="1" height="19" fill="#000" />
<rect x="313" y="521" width="5" height="4" fill="#000" />
<rect x="323" y="511" width="1" height="17" fill="#000" />
<rect x="321" y="515" width="5" height="10" fill="#000" />
<rect x="322" y="516" width="3" height="8" fill="#fff" />
<rect x="331" y="478" width="1" height="39" fill="#000" />
<rect x="329" y="482" width="5" height="34" fill="#000" />
<rect x="330" y="483" width="3" height="32" fill="#fff" />
<rect x="339" y="480" width="1" height="33" fill="#000" />
<rect x="337" y="481" width="5" height="10" fill="#000" />
<rect x="347" y="465" width="1" height="28" fill="#000" />
<rect x="345" y="473" width="5" height="18" fill="#000" />
<rect x="346" y="474" width="3" height="16" fill="#fff" />
<rect x="355" y="468" width="1" height="12" fill="#000" />
<rect x="353" y="472" width="5" height="3" fill="#000" />
<rect x="354" y="473" width="3" height="1" fill="#fff" />
<rect x="363" y="451" width="1" height="29" fill="#000" />
<rect x="361" y="452" width="5" height="21" fill="#000" />
<rect x="362" y="453" width="3" height="19" fill="#fff" />
<rect x="371" y="436" width="1" height="19" fill="#000" />
<rect x="369" y="446" width="5" height="7" fill="#000" />
<rect x="370" y="447" width="3" height="5" fill="#fff" />
<rect x="379" y="438" width="1" height="40" fill="#000" />
<rect x="377" y="446" width="5" height="27" fill="#000" />
<rect x="387" y="468" width="1" height="24" fill="#000" />
<rect x="385" y="472" width="5" height="5" fill="#000" />
<rect x="395" y="469" width="1" height="24" fill="#000" />
<rect x="393" y="476" width="5" height="1" fill="#000" />
<rect x="403" y="474" width="1" height="16" fill="#000" />
<rect x="401" y="476" width="5" height="4" fill="#000" />
<rect x="411" y="470" width="1" height="20" fill="#000" />
<rect x="409" y="473" width="5" height="7" fill="#000" />
<rect x="410" y="474" width="3" height="5" fill="#fff" />
<rect x="419" y="470" width="1" height="30" fill="#000" />
<rect x="417" y="473" width="5" height="17" fill="#000" />
<rect x="427" y="473" width="1" height="63" fill="#000" />
<rect x="425" y="486" width="5" height="5" fill="#000" />
<rect x="426" y="487" width="3" height="3" fill="#fff" />
<rect x="435" y="469" width="1" height="36" fill="#000" />
<rect x="433" y="471" width="5" height="16" fill="#000" />
<rect x="434" y="472" width="3" height="14" fill="#fff" />
<rect x="443" y="460" width="1" height="21" fill="#000" />
<rect x="441" y="471" width="5" height="5" fill="#000" />
<rect x="451" y="475" width="1" height="32" fill="#000" />
<rect x="449" y="475" width="5" height="16" fill="#000" />
<rect x="459" y="482" width="1" height="16" fill="#000" />
<rect x="457" y="489" width="5" height="5" fill="#000" />
<rect x="467" y="489" width="1" height="22" fill="#000" />
<rect x="465" y="493" width="5" height="18" fill="#000" />
<rect x="475" y="499" width="1" height="26" fill="#000" />
<rect x="473" y="510" width="5" height="9" fill="#000" />
<rect x="483" y="501" width="1" height="28" fill="#000" />
<rect x="481" y="510" width="5" height="8" fill="#000" />
<rect x="482" y="511" width="3" height="6" fill="#fff" />
<rect x="491" y="490" width="1" height="27" fill="#000" />
<rect x="489" y="507" width="5" height="3" fill="#000" />
<rect x="490" y="508" width="3" height="1" fill="#fff" />
<rect x="499" y="497" width="1" height="12" fill="#000" />
<rect x="497" y="499" width="5" height="9" fill="#000" />
<rect x="498" y="500" width="3" height="7" fill="#fff" />
<rect x="507" y="484" width="1" height="29" fill="#000" />
<rect x="505" y="489" width="5" height="10" fill="#000" />
<rect x="506" y="490" width="3" height="8" fill="#fff" />
<rect x="515" y="487" width="1" height="15" fill="#000" />
<rect x="513" y="489" width="5" height="6" fill="#000" />
<rect x="523" y="487" width="1" height="15" fill="#000" />
<rect x="521" y="491" width="5" height="3" fill="#000" />
<rect x="522" y="492" width="3" height="1" fill="#fff" />
<rect x="531" y="478" width="1" height="41" fill="#000" />
<rect x="529" y="491" width="5" height="7" fill="#000" />
<rect x="539" y="471" width="1" height="43" fill="#000" />
<rect x="537" y="479" width="5" height="19" fill="#000" />
<rect x="538" y="480" width="3" height="17" fill="#fff" />
<rect x="547" y="472" width="1" height="9" fill="#000" />
<rect x="545" y="472" width="5" height="6" fill="#000" />
<rect x="546" y="473" width="3" height="4" fill="#fff" />
<rect x="555" y="467" width="1" height="10" fill="#000" />
<rect x="553" y="472" width="5" height="2" fill="#000" />
<rect x="563" y="470" width="1" height="26" fill="#000" />
<rect x="561" y="473" width="5" height="13" fill="#000" />
<rect x="571" y="458" width="1" height="30" fill="#000" />
<rect x="569" y="461" width="5" height="25" fill="#000" />
<rect x="570" y="462" width="3" height="23" fill="#fff" />
<rect x="579" y="457" width="1" height="31" fill="#000" />
<rect x="577" y="460" width="5" height="26" fill="#000" />
<rect x="587" y="484" width="1" height="23" fill="#000" />
<rect x="585" y="485" width="5" height="12" fill="#000" />
<rect x="595" y="491" width="1" height="16" fill="#000" />
<rect x="593" y="495" width="5" height="2" fill="#000" />
<rect x="603" y="494" width="1" height="19" fill="#000" />
<rect x="601" y="496" width="5" height="11" fill="#000" />
<rect x="611" y="488" width="1" height="23" fill="#000" />
<rect x="609" y="493" width="5" height="14" fill="#000" />
<rect x="610" y="494" width="3" height="12" fill="#fff" />
<rect x="619" y="472" width="1" height="26" fill="#000" />
<rect x="617" y="474" width="5" height="18" fill="#000" />
<rect x="618" y="475" width="3" height="16" fill="#fff" />
<rect x="627" y="467" width="1" height="23" fill="#000" />
<rect x="625" y="472" width="5" height="3" fill="#000" />
<rect x="626" y="473" width="3" height="1" fill="#fff" />
<rect x="635" y="468" width="1" height="17" fill="#000" />
<rect x="633" y="472" width="5" height="7" fill="#000" />
<rect x="643" y="472" width="1" height="12" fill="#000" />
<rect x="641" y="474" width="5" height="6" fill="#000" />
<rect x="642" y="475" width="3" height="4" fill="#fff" />
<rect x="651" y="466" width="1" height="11" fill="#000" />
<rect x="649" y="471" width="5" height="3" fill="#000" />
<rect x="650" y="472" width="3" height="1" fill="#fff" />
<rect x="659" y="457" width="1" height="16" fill="#000" />
<rect x="657" y="460" width="5" height="11" fill="#000" />
<rect x="658" y="461" width="3" height="9" fill="#fff" />
<rect x="667" y="443" width="1" height="21" fill="#000" />
<rect x="665" y="448" width="5" height="13" fill="#000" />
<rect x="666" y="449" width="3" height="11" fill="#fff" />
<rect x="675" y="444" width="1" height="36" fill="#000" />
<rect x="673" y="448" width="5" height="26" fill="#000" />
<rect x="683" y="443" width="1" height="42" fill="#000" />
<rect x="681" y="447" width="5" height="27" fill="#000" />
<rect x="682" y="448" width="3" height="25" fill="#fff" />
<rect x="691" y="416" width="1" height="31" fill="#000" />
<rect x="689" y="422" width="5" height="25" fill="#000" />
<rect x="690" y="423" width="3" height="23" fill="#fff" />
<rect x="699" y="418" width="1" height="20" fill="#000" />
<rect x="697" y="423" width="5" height="7" fill="#000" />
<rect x="707" y="419" width="1" height="19" fill="#000" />
<rect x="705" y="424" width="5" height="6" fill="#000" />
<rect x="706" y="425" width="3" height="4" fill="#fff" />
<rect x="715" y="398" width="1" height="27" fill="#000" />
<rect x="713" y="411" width="5" height="13" fill="#000" />
<rect x="714" y="412" width="3" height="11" fill="#fff" />
<rect x="723" y="352" width="1" height="72" fill="#000" />
<rect x="721" y="408" width="5" height="4" fill="#000" />
<rect x="722" y="409" width="3" height="2" fill="#fff" />
<rect x="731" y="406" width="1" height="31" fill="#000" />
<rect x="729" y="408" width="5" height="26" fill="#000" />
<rect x="739" y="414" width="1" height="25" fill="#000" />
<rect x="737" y="419" width="5" height="15" fill="#000" />
<rect x="738" y="420" width="3" height="13" fill="#fff" />
<rect x="747" y="403" width="1" height="32" fill="#000" />
<rect x="745" y="419" width="5" height="13" fill="#000" />
<rect x="755" y="414" width="1" height="24" fill="#000" />
<rect x="753" y="428" width="5" height="4" fill="#000" />
<rect x="754" y="429" width="3" height="2" fill="#fff" />
<rect x="763" y="418" width="1" height="42" fill="#000" />
<rect x="761" y="428" width="5" height="28" fill="#000" />
<rect x="771" y="451" width="1" height="25" fill="#000" />
<rect x="769" y="455" width="5" height="6" fill="#000" />
<rect x="779" y="455" width="1" height="13" fill="#000" />
<rect x="777" y="460" width="5" height="4" fill="#000" />
<rect x="787" y="471" width="1" height="20" fill="#000" />
<rect x="785" y="473" width="5" height="18" fill="#000" />
<rect x="795" y="478" width="1" height="19" fill="#000" />
<rect x="793" y="490" width="5" height="2" fill="#000" />
<rect x="803" y="489" width="1" height="30" fill="#000" />
<rect x="801" y="492" width="5" height="12" fill="#000" />
<rect x="811" y="493" width="1" height="34" fill="#000" />
<rect x="809" y="493" width="5" height="11" fill="#000" />
<rect x="810" y="494" width="3" height="9" fill="#fff" />
<rect x="819" y="477" width="1" height="35" fill="#000" />
<rect x="817" y="494" width="5" height="9" fill="#000" />
<rect x="827" y="486" width="1" height="27" fill="#000" />
<rect x="825" y="492" width="5" height="12" fill="#000" />
<rect x="826" y="493" width="3" height="10" fill="#fff" />
<rect x="835" y="489" width="1" height="17" fill="#000" />
<rect x="833" y="491" width="5" height="3" fill="#000" />
<rect x="834" y="492" width="3" height="1" fill="#fff" />
<rect x="843" y="487" width="1" height="19" fill="#000" />
<rect x="841" y="490" width="5" height="1" fill="#000" />
<rect x="851" y="475" width="1" height="19" fill="#000" />
<rect x="849" y="484" width="5" height="7" fill="#000" />
<rect x="850" y="485" width="3" height="5" fill="#fff" />
<rect x="859" y="456" width="1" height="32" fill="#000" />
<rect x="857" y="467" width="5" height="18" fill="#000" />
<rect x="858" y="468" width="3" height="16" fill="#fff" />
<rect x="867" y="443" width="1" height="26" fill="#000" />
<rect x="865" y="445" width="5" height="23" fill="#000" />
<rect x="866" y="446" width="3" height="21" fill="#fff" />
<rect x="875" y="420" width="1" height="27" fill="#000" />
<rect x="873" y="424" width="5" height="22" fill="#000" />
<rect x="874" y="425" width="3" height="20" fill="#fff" />
<rect x="883" y="420" width="1" height="13" fill="#000" />
<rect x="881" y="424" width="5" height="7" fill="#000" />
<rect x="891" y="418" width="1" height="15" fill="#000" />
<rect x="889" y="428" width="5" height="1" fill="#000" />
<rect x="899" y="413" width="1" height="25" fill="#000" />
<rect x="897" y="414" width="5" height="14" fill="#000" />
<rect x="898" y="415" width="3" height="12" fill="#fff" />
<rect x="907" y="376" width="1" height="41" fill="#000" />
<rect x="905" y="383" width="5" height="33" fill="#000" />
<rect x="906" y="384" width="3" height="31" fill="#fff" />
<rect x="915" y="355" width="1" height="37" fill="#000" />
<rect x="913" y="357" width="5" height="27" fill="#000" />
<rect x="914" y="358" width="3" height="25" fill="#fff" />
<rect x="923" y="355" width="1" height="12" fill="#000" />
<rect x="921" y="357" width="5" height="2" fill="#000" />
<rect x="931" y="358" width="1" height="18" fill="#000" />
<rect x="929" y="358" width="5" height="10" fill="#000" />
<rect x="939" y="355" width="1" height="16" fill="#000" />
<rect x="937" y="366" width="5" height="3" fill="#000" />
<rect x="947" y="344" width="1" height="26" fill="#000" />
<rect x="945" y="345" width="5" height="24" fill="#000" />
<rect x="946" y="346" width="3" height="22" fill="#fff" />
<rect x="955" y="302" width="1" height="45" fill="#000" />
<rect x="953" y="302" width="5" height="44" fill="#000" />
<rect x="954" y="303" width="3" height="42" fill="#fff" />
<rect x="963" y="292" width="1" height="35" fill="#000" />
<rect x="961" y="302" width="5" height="8" fill="#000" />
<rect x="971" y="300" width="1" height="19" fill="#000" />
<rect x="969" y="300" width="5" height="9" fill="#000" />
<rect x="970" y="301" width="3" height="7" fill="#fff" />
<rect x="979" y="300" width="1" height="15" fill="#000" />
<rect x="977" y="300" width="5" height="10" fill="#000" />
<rect x="987" y="300" width="1" height="18" fill="#000" />
<rect x="985" y="309" width="5" height="9" fill="#000" />
<rect x="995" y="308" width="1" height="16" fill="#000" />
<rect x="993" y="312" width="5" height="6" fill="#000" />
<rect x="994" y="313" width="3" height="4" fill="#fff" />
<rect x="1003" y="306" width="1" height="17" fill="#000" />
<rect x="1001" y="308" width="5" height="6" fill="#000" />
<rect x="1002" y="309" width="3" height="4" fill="#fff" />
<rect x="1011" y="302" width="1" height="21" fill="#000" />
<rect x="1009" y="308" width="5" height="11" fill="#000" />
<rect x="1019" y="316" width="1" height="17" fill="#000" />
<rect x="1017" y="318" width="5" height="5" fill="#000" />
<rect x="1027" y="314" width="1" height="8" fill="#000" />
<rect x="1025" y="317" width="5" height="2" fill="#000" />
<rect x="1035" y="304" width="1" height="19" fill="#000" />
<rect x="1033" y="305" width="5" height="14" fill="#000" />
<rect x="1034" y="306" width="3" height="12" fill="#fff" />
<rect x="1043" y="302" width="1" height="14" fill="#000" />
<rect x="1041" y="303" width="5" height="2" fill="#000" />
<rect x="1051" y="289" width="1" height="19" fill="#000" />
<rect x="1049" y="293" width="5" height="10" fill="#000" />
<rect x="1050" y="294" width="3" height="8" fill="#fff" />
<rect x="1059" y="263" width="1" height="33" fill="#000" />
<rect x="1057" y="268" width="5" height="26" fill="#000" />
<rect x="1058" y="269" width="3" height="24" fill="#fff" />
<rect x="1067" y="250" width="1" height="20" fill="#000" />
<rect x="1065" y="250" width="5" height="19" fill="#000" />
<rect x="1066" y="251" width="3" height="17" fill="#fff" />
<rect x="1075" y="249" width="1" height="14" fill="#000" />
<rect x="1073" y="250" width="5" height="10" fill="#000" />
<rect x="1083" y="249" width="1" height="18" fill="#000" />
<rect x="1081" y="258" width="5" height="2" fill="#000" />
<rect x="1091" y="253" width="1" height="11" fill="#000" />
<rect x="1089" y="258" width="5" height="4" fill="#000" />
<rect x="1099" y="245" width="1" height="20" fill="#000" />
<rect x="1097" y="246" width="5" height="15" fill="#000" />
<rect x="1098" y="247" width="3" height="13" fill="#fff" />
<rect x="1107" y="243" width="1" height="33" fill="#000" />
<rect x="1105" y="246" width="5" height="26" fill="#000" />
<rect x="1115" y="262" width="1" height="13" fill="#000" />
<rect x="1113" y="268" width="5" height="5" fill="#000" />
<rect x="1114" y="269" width="3" height="3" fill="#fff" />
<rect x="1123" y="260" width="1" height="10" fill="#000" />
<rect x="1121" y="266" width="5" height="3" fill="#000" />
<rect x="1122" y="267" width="3" height="1" fill="#fff" />
<rect x="1131" y="257" width="1" height="16" fill="#000" />
<rect x="1129" y="261" width="5" height="5" fill="#000" />
<rect x="1130" y="262" width="3" height="3" fill="#fff" />
<rect x="1139" y="257" width="1" height="12" fill="#000" />
<rect x="1137" y="261" width="5" height="1" fill="#000" />
<rect x="1147" y="250" width="1" height="15" fill="#000" />
<rect x="1145" y="254" width="5" height="7" fill="#000" />
<rect x="1146" y="255" width="3" height="5" fill="#fff" />
<rect x="1155" y="218" width="1" height="41" fill="#000" />
<rect x="1153" y="219" width="5" height="35" fill="#000" />
<rect x="1154" y="220" width="3" height="33" fill="#fff" />
<rect x="1163" y="213" width="1" height="16" fill="#000" />
<rect x="1161" y="216" width="5" height="4" fill="#000" />
<rect x="1162" y="217" width="3" height="2" fill="#fff" />
<rect x="1171" y="212" width="1" height="10" fill="#000" />
<rect x="1169" y="212" width="5" height="4" fill="#000" />
<rect x="1170" y="213" width="3" height="2" fill="#fff" />
<rect x="1179" y="200" width="1" height="15" fill="#000" />
<rect x="1177" y="211" width="5" height="3" fill="#000" />
<rect x="1178" y="212" width="3" height="1" fill="#fff" />
<rect x="1187" y="206" width="1" height="13" fill="#000" />
<rect x="1185" y="210" width="5" height="5" fill="#000" />
<rect x="1195" y="201" width="1" height="24" fill="#000" />
<rect x="1193" y="207" width="5" height="8" fill="#000" />
<rect x="1194" y="208" width="3" height="6" fill="#fff" />
<rect x="1203" y="182" width="1" height="26" fill="#000" />
<rect x="1201" y="196" width="5" height="11" fill="#000" />
<rect x="1202" y="197" width="3" height="9" fill="#fff" />
<rect x="1211" y="190" width="1" height="17" fill="#000" />
<rect x="1209" y="195" width="5" height="1" fill="#000" />
<rect x="1219" y="193" width="1" height="19" fill="#000" />
<rect x="1217" y="195" width="5" height="9" fill="#000" />
<rect x="1227" y="197" width="1" height="9" fill="#000" />
<rect x="1225" y="201" width="5" height="3" fill="#000" />
<rect x="1226" y="202" width="3" height="1" fill="#fff" />
<rect x="1235" y="190" width="1" height="12" fill="#000" />
<rect x="1233" y="190" width="5" height="12" fill="#000" />
<rect x="1234" y="191" width="3" height="10" fill="#fff" />
<rect x="1243" y="185" width="1" height="29" fill="#000" />
<rect x="1241" y="191" width="5" height="21" fill="#000" />
<rect x="1251" y="163" width="1" height="57" fill="#000" />
<rect x="1249" y="166" width="5" height="46" fill="#000" />
<rect x="1250" y="167" width="3" height="44" fill="#fff" />
<rect x="1259" y="164" width="1" height="21" fill="#000" />
<rect x="1257" y="166" width="5" height="13" fill="#000" />
<rect x="1267" y="176" width="1" height="7" fill="#000" />
<rect x="1265" y="178" width="5" height="4" fill="#000" />
<rect x="1275" y="168" width="1" height="21" fill="#000" />
<rect x="1273" y="181" width="5" height="5" fill="#000" />
<rect x="1283" y="176" width="1" height="13" fill="#000" />
<rect x="1281" y="180" width="5" height="6" fill="#000" />
<rect x="1282" y="181" width="3" height="4" fill="#fff" />
<rect x="1291" y="171" width="1" height="28" fill="#000" />
<rect x="1289" y="180" width="5" height="15" fill="#000" />
<rect x="1299" y="191" width="1" height="35" fill="#000" />
<rect x="1297" y="194" width="5" height="25" fill="#000" />
<rect x="1307" y="190" width="1" height="34" fill="#000" />
<rect x="1305" y="190" width="5" height="29" fill="#000" />
<rect x="1306" y="191" width="3" height="27" fill="#fff" />
<rect x="1315" y="189" width="1" height="12" fill="#000" />
<rect x="1313" y="190" width="5" height="3" fill="#000" />
<rect x="1323" y="166" width="1" height="31" fill="#000" />
<rect x="1321" y="175" width="5" height="18" fill="#000" />
<rect x="1322" y="176" width="3" height="16" fill="#fff" />
<rect x="1331" y="157" width="1" height="21" fill="#000" />
<rect x="1329" y="157" width="5" height="19" fill="#000" />
<rect x="1330" y="158" width="3" height="17" fill="#fff" />
<rect x="1339" y="121" width="1" height="38" fill="#000" />
<rect x="1337" y="122" width="5" height="36" fill="#000" />
<rect x="1338" y="123" width="3" height="34" fill="#fff" />
<rect x="1347" y="84" width="1" height="46" fill="#000" />
<rect x="1345" y="85" width="5" height="38" fill="#000" />
<rect x="1346" y="86" width="3" height="36" fill="#fff" />
<rect x="1355" y="85" width="1" height="22" fill="#000" />
<rect x="1353" y="85" width="5" height="13" fill="#000" />
<rect x="1363" y="93" width="1" height="14" fill="#000" />
<rect x="1361" y="99" width="5" height="2" fill="#000" />
<rect x="1371" y="91" width="1" height="28" fill="#000" />
<rect x="1369" y="101" width="5" height="8" fill="#000" />
<rect x="1379" y="100" width="1" height="17" fill="#000" />
<rect x="1377" y="104" width="5" height="4" fill="#000" />
<rect x="1378" y="105" width="3" height="2" fill="#fff" />
<rect x="1387" y="100" width="1" height="32" fill="#000" />
<rect x="1385" y="101" width="5" height="28" fill="#000" />
<rect x="1395" y="101" width="1" height="31" fill="#000" />
<rect x="1393" y="104" width="5" height="24" fill="#000" />
<rect x="1394" y="105" width="3" height="22" fill="#fff" />
<rect x="1403" y="65" width="1" height="44" fill="#000" />
<rect x="1401" y="79" width="5" height="26" fill="#000" />
<rect x="1402" y="80" width="3" height="24" fill="#fff" />
<rect x="1411" y="79" width="1" height="12" fill="#000" />
<rect x="1409" y="79" width="5" height="11" fill="#000" />
</g>
<g shape-rendering="crispEdges">
<rect x="1332" y="97" width="169" height="7" fill="#00ff00" />
</g>
<line x1="1304" y1="224" x2="1423.4" y2="71.9" stroke="#ff0000" stroke-width="3.2" stroke-linecap="round"/>
<polygon points="1429.9,66.2 1425.9,76.4 1423.4,71.9 1418.3,70.5 1427.3,64.2" fill="#ff0000" stroke="#ff0000" stroke-width="0.8" stroke-linejoin="round"/>
<g shape-rendering="crispEdges">
<rect x="1220" y="99" width="8" height="1" fill="#ff0000" />
<rect x="1227.5" y="97.5" width="3" height="3" fill="#fff" stroke="#ff0000"/>
<rect x="1397" y="66" width="7" height="1" fill="#ff0000" />
<rect x="1394.5" y="64.5" width="3" height="3" fill="#fff" stroke="#ff0000"/>
<rect x="1290" y="226" width="9" height="1" fill="#ff0000" />
<rect x="802" y="526" width="10" height="1" fill="#ff0000" />
</g>
<rect x="1230.5" y="87.5" width="73" height="24" fill="#fff" stroke="#ff0000" stroke-width="1" shape-rendering="crispEdges"/>
<text x="1231" y="107.6" font-size="23.4" fill="#ff0000" textLength="72.5" lengthAdjust="spacingAndGlyphs" >157.139</text>
<rect x="1332.5" y="57.5" width="61" height="18" fill="#fff" stroke="#ff0000" stroke-width="1" shape-rendering="crispEdges"/>
<text x="1333.5" y="72.4" font-size="17.6" fill="#ff0000" textLength="59" lengthAdjust="spacingAndGlyphs" >157.738</text>
<rect x="1228.5" y="217.5" width="61" height="18" fill="#fff" stroke="#ff0000" stroke-width="1" shape-rendering="crispEdges"/>
<text x="1229.3" y="232.6" font-size="17.6" fill="#ff0000" textLength="58.5" lengthAdjust="spacingAndGlyphs" >154.871</text>
<rect x="740.5" y="517.5" width="61" height="18" fill="#fff" stroke="#ff0000" stroke-width="1" shape-rendering="crispEdges"/>
<text x="741.5" y="532.6" font-size="17.6" fill="#ff0000" textLength="59" lengthAdjust="spacingAndGlyphs" >149.504</text>
<polygon points="1408,28 1418,28 1413,33" fill="#c0c0c0"/>
<text x="2" y="38.7" font-size="9.9" fill="#000" textLength="200.5" lengthAdjust="spacingAndGlyphs" text-rendering="geometricPrecision" >GBPJPY-,H4&#160;&#160;157.501 157.501 157.293 157.350</text>
</g>
<g>
<rect x="0" y="45" width="211" height="61" fill="#fff" />
<rect x="0" y="71" width="209" height="33" fill="url(#gd)" />
<rect x="42" y="71" width="115" height="1" fill="#b00000" />
<rect x="0" y="47" width="42" height="24" fill="#b00000" />
<rect x="0" y="48" width="41" height="23" fill="url(#gl)" />
<rect x="157" y="47" width="52" height="24" fill="#b00000" />
<rect x="158" y="48" width="50" height="23" fill="url(#gl)" />
<rect x="0" y="70" width="38" height="1" fill="#960000" />
<rect x="0" y="71" width="38" height="1" fill="#f58a8a" />
<rect x="161" y="70" width="44" height="1" fill="#960000" />
<rect x="161" y="71" width="44" height="1" fill="#f58a8a" />
<rect x="99" y="71" width="2" height="33" fill="#fff" />
<rect x="44.5" y="47.5" width="110" height="21" fill="#fff" stroke="#a8aab2" shape-rendering="crispEdges"/>
<rect x="46" y="49" width="18" height="18" fill="url(#gb)" />
<rect x="135" y="49" width="18" height="18" fill="url(#gb)" />
<rect x="65" y="48" width="1" height="20" fill="#a8aab2" />
<rect x="133" y="48" width="1" height="20" fill="#a8aab2" />
<polygon points="52,56 57.4,56 54.7,59.2" fill="#4a5ab8"/>
<polygon points="141,59.2 146.4,59.2 143.7,56" fill="#5a6ac8"/>
<text x="129.7" y="61.6" font-size="13" fill="#000" text-anchor="end" textLength="24" lengthAdjust="spacingAndGlyphs" >1.00</text>
<text x="2.3" y="62.8" font-size="12.6" fill="#fff" textLength="26" lengthAdjust="spacingAndGlyphs" >SELL</text>
<text x="170.4" y="62.8" font-size="12.6" fill="#fff" textLength="23.5" lengthAdjust="spacingAndGlyphs" >BUY</text>
<text x="13.3" y="98.6" font-size="11.4" fill="#fff" textLength="20" lengthAdjust="spacingAndGlyphs" font-weight="bold" >157</text>
<text x="38.3" y="98.6" font-size="33" fill="#fff" textLength="33" lengthAdjust="spacingAndGlyphs" >35</text>
<text x="76.3" y="83" font-size="11.8" fill="#fff" font-weight="bold" >0</text>
<text x="123.3" y="98.6" font-size="11.4" fill="#fff" textLength="20" lengthAdjust="spacingAndGlyphs" font-weight="bold" >157</text>
<text x="148.6" y="98.6" font-size="33" fill="#fff" textLength="35" lengthAdjust="spacingAndGlyphs" >39</text>
<text x="187.6" y="83" font-size="11.8" fill="#fff" font-weight="bold" >7</text>
<polygon points="10.5,83 12,84.5 10.5,86 9,84.5" fill="none" stroke="#66dddd" stroke-width="0.8"/>
</g>
<g shape-rendering="crispEdges">
<rect x="1647" y="49" width="2" height="1" fill="#000" />
<rect x="1647" y="82" width="2" height="1" fill="#000" />
<rect x="1647" y="115" width="2" height="1" fill="#000" />
<rect x="1647" y="181" width="2" height="1" fill="#000" />
<rect x="1647" y="214" width="2" height="1" fill="#000" />
<rect x="1647" y="247" width="2" height="1" fill="#000" />
<rect x="1647" y="280" width="2" height="1" fill="#000" />
<rect x="1647" y="313" width="2" height="1" fill="#000" />
<rect x="1647" y="346" width="2" height="1" fill="#000" />
<rect x="1647" y="379" width="2" height="1" fill="#000" />
<rect x="1647" y="412" width="2" height="1" fill="#000" />
<rect x="1647" y="445" width="2" height="1" fill="#000" />
<rect x="1647" y="478" width="2" height="1" fill="#000" />
<rect x="1647" y="511" width="2" height="1" fill="#000" />
<rect x="1647" y="544" width="2" height="1" fill="#000" />
<rect x="1647" y="577" width="2" height="1" fill="#000" />
</g>
<text x="1652.3" y="53.1" font-size="9.9" fill="#000" textLength="33" lengthAdjust="spacingAndGlyphs" text-rendering="geometricPrecision" >158.030</text>
<text x="1652.3" y="86.1" font-size="9.9" fill="#000" textLength="33" lengthAdjust="spacingAndGlyphs" text-rendering="geometricPrecision" >157.445</text>
<text x="1652.3" y="119.1" font-size="9.9" fill="#000" textLength="33" lengthAdjust="spacingAndGlyphs" text-rendering="geometricPrecision" >156.845</text>
<text x="1652.3" y="185.1" font-size="9.9" fill="#000" textLength="33" lengthAdjust="spacingAndGlyphs" text-rendering="geometricPrecision" >155.675</text>
<text x="1652.3" y="218.1" font-size="9.9" fill="#000" textLength="33" lengthAdjust="spacingAndGlyphs" text-rendering="geometricPrecision" >155.075</text>
<text x="1652.3" y="251.1" font-size="9.9" fill="#000" textLength="33" lengthAdjust="spacingAndGlyphs" text-rendering="geometricPrecision" >154.490</text>
<text x="1652.3" y="284.1" font-size="9.9" fill="#000" textLength="33" lengthAdjust="spacingAndGlyphs" text-rendering="geometricPrecision" >153.905</text>
<text x="1652.3" y="317.1" font-size="9.9" fill="#000" textLength="33" lengthAdjust="spacingAndGlyphs" text-rendering="geometricPrecision" >153.320</text>
<text x="1652.3" y="350.1" font-size="9.9" fill="#000" textLength="33" lengthAdjust="spacingAndGlyphs" text-rendering="geometricPrecision" >152.720</text>
<text x="1652.3" y="383.1" font-size="9.9" fill="#000" textLength="33" lengthAdjust="spacingAndGlyphs" text-rendering="geometricPrecision" >152.135</text>
<text x="1652.3" y="416.1" font-size="9.9" fill="#000" textLength="33" lengthAdjust="spacingAndGlyphs" text-rendering="geometricPrecision" >151.550</text>
<text x="1652.3" y="449.1" font-size="9.9" fill="#000" textLength="33" lengthAdjust="spacingAndGlyphs" text-rendering="geometricPrecision" >150.950</text>
<text x="1652.3" y="482.1" font-size="9.9" fill="#000" textLength="33" lengthAdjust="spacingAndGlyphs" text-rendering="geometricPrecision" >150.365</text>
<text x="1652.3" y="515.1" font-size="9.9" fill="#000" textLength="33" lengthAdjust="spacingAndGlyphs" text-rendering="geometricPrecision" >149.780</text>
<text x="1652.3" y="548.1" font-size="9.9" fill="#000" textLength="33" lengthAdjust="spacingAndGlyphs" text-rendering="geometricPrecision" >149.180</text>
<text x="1652.3" y="581.1" font-size="9.9" fill="#000" textLength="33" lengthAdjust="spacingAndGlyphs" text-rendering="geometricPrecision" >148.595</text>
<rect x="1648" y="33" width="41" height="11" fill="#ff0000" shape-rendering="crispEdges"/>
<text x="1652.3" y="42.0" font-size="9.9" fill="#fff" textLength="33" lengthAdjust="spacingAndGlyphs" text-rendering="geometricPrecision" >158.217</text>
<rect x="1641.5" y="37.5" width="4" height="4" fill="#fff" stroke="#ff0000" shape-rendering="crispEdges"/>
<rect x="1648" y="53" width="41" height="11" fill="#ff0000" shape-rendering="crispEdges"/>
<text x="1652.3" y="62.0" font-size="9.9" fill="#fff" textLength="33" lengthAdjust="spacingAndGlyphs" text-rendering="geometricPrecision" >157.856</text>
<rect x="1648" y="82" width="41" height="11" fill="#000000" shape-rendering="crispEdges"/>
<text x="1652.3" y="91.0" font-size="9.9" fill="#fff" textLength="33" lengthAdjust="spacingAndGlyphs" text-rendering="geometricPrecision" >157.350</text>
<rect x="1648" y="93" width="41" height="11" fill="#32cd32" shape-rendering="crispEdges"/>
<text x="1652.3" y="102.0" font-size="9.9" fill="#fff" textLength="33" lengthAdjust="spacingAndGlyphs" text-rendering="geometricPrecision" >157.139</text>
<rect x="1641.5" y="97.5" width="4" height="4" fill="#fff" stroke="#32cd32" shape-rendering="crispEdges"/>
<rect x="1648" y="117" width="41" height="11" fill="#0000ff" shape-rendering="crispEdges"/>
<text x="1652.3" y="126.0" font-size="9.9" fill="#fff" textLength="33" lengthAdjust="spacingAndGlyphs" text-rendering="geometricPrecision" >156.711</text>
<rect x="1641.5" y="121.5" width="4" height="4" fill="#fff" stroke="#0000ff" shape-rendering="crispEdges"/>
<rect x="1648" y="144" width="41" height="11" fill="#0000ff" shape-rendering="crispEdges"/>
<text x="1652.3" y="153.0" font-size="9.9" fill="#fff" textLength="33" lengthAdjust="spacingAndGlyphs" text-rendering="geometricPrecision" >156.231</text>
<rect x="1641.5" y="148.5" width="4" height="4" fill="#fff" stroke="#0000ff" shape-rendering="crispEdges"/>
<g shape-rendering="crispEdges">
<rect x="3" y="668" width="1" height="1" fill="#c0c0c0" />
<rect x="11" y="668" width="1" height="1" fill="#c0c0c0" />
<rect x="19" y="668" width="1" height="2" fill="#c0c0c0" />
<rect x="27" y="668" width="1" height="12" fill="#c0c0c0" />
<rect x="35" y="668" width="1" height="25" fill="#c0c0c0" />
<rect x="43" y="668" width="1" height="36" fill="#c0c0c0" />
<rect x="51" y="668" width="1" height="50" fill="#c0c0c0" />
<rect x="59" y="668" width="1" height="62" fill="#c0c0c0" />
<rect x="67" y="668" width="1" height="64" fill="#c0c0c0" />
<rect x="75" y="668" width="1" height="65" fill="#c0c0c0" />
<rect x="83" y="668" width="1" height="67" fill="#c0c0c0" />
<rect x="91" y="668" width="1" height="68" fill="#c0c0c0" />
<rect x="99" y="668" width="1" height="71" fill="#c0c0c0" />
<rect x="107" y="668" width="1" height="72" fill="#c0c0c0" />
<rect x="115" y="668" width="1" height="68" fill="#c0c0c0" />
<rect x="123" y="668" width="1" height="65" fill="#c0c0c0" />
<rect x="131" y="668" width="1" height="67" fill="#c0c0c0" />
<rect x="139" y="668" width="1" height="69" fill="#c0c0c0" />
<rect x="147" y="668" width="1" height="73" fill="#c0c0c0" />
<rect x="155" y="668" width="1" height="76" fill="#c0c0c0" />
<rect x="163" y="668" width="1" height="74" fill="#c0c0c0" />
<rect x="171" y="668" width="1" height="70" fill="#c0c0c0" />
<rect x="179" y="668" width="1" height="63" fill="#c0c0c0" />
<rect x="187" y="668" width="1" height="58" fill="#c0c0c0" />
<rect x="195" y="668" width="1" height="59" fill="#c0c0c0" />
<rect x="203" y="668" width="1" height="65" fill="#c0c0c0" />
<rect x="211" y="668" width="1" height="67" fill="#c0c0c0" />
<rect x="219" y="668" width="1" height="64" fill="#c0c0c0" />
<rect x="227" y="668" width="1" height="61" fill="#c0c0c0" />
<rect x="235" y="668" width="1" height="56" fill="#c0c0c0" />
<rect x="243" y="668" width="1" height="54" fill="#c0c0c0" />
<rect x="251" y="668" width="1" height="50" fill="#c0c0c0" />
<rect x="259" y="668" width="1" height="48" fill="#c0c0c0" />
<rect x="267" y="668" width="1" height="46" fill="#c0c0c0" />
<rect x="275" y="668" width="1" height="42" fill="#c0c0c0" />
<rect x="283" y="668" width="1" height="38" fill="#c0c0c0" />
<rect x="291" y="668" width="1" height="42" fill="#c0c0c0" />
<rect x="299" y="668" width="1" height="50" fill="#c0c0c0" />
<rect x="307" y="668" width="1" height="52" fill="#c0c0c0" />
<rect x="315" y="668" width="1" height="52" fill="#c0c0c0" />
<rect x="323" y="668" width="1" height="50" fill="#c0c0c0" />
<rect x="331" y="668" width="1" height="42" fill="#c0c0c0" />
<rect x="339" y="668" width="1" height="38" fill="#c0c0c0" />
<rect x="347" y="668" width="1" height="32" fill="#c0c0c0" />
<rect x="355" y="668" width="1" height="26" fill="#c0c0c0" />
<rect x="363" y="668" width="1" height="18" fill="#c0c0c0" />
<rect x="371" y="668" width="1" height="12" fill="#c0c0c0" />
<rect x="379" y="668" width="1" height="9" fill="#c0c0c0" />
<rect x="387" y="668" width="1" height="8" fill="#c0c0c0" />
<rect x="395" y="668" width="1" height="7" fill="#c0c0c0" />
<rect x="403" y="668" width="1" height="6" fill="#c0c0c0" />
<rect x="411" y="668" width="1" height="5" fill="#c0c0c0" />
<rect x="419" y="668" width="1" height="7" fill="#c0c0c0" />
<rect x="427" y="668" width="1" height="7" fill="#c0c0c0" />
<rect x="435" y="668" width="1" height="5" fill="#c0c0c0" />
<rect x="443" y="668" width="1" height="4" fill="#c0c0c0" />
<rect x="451" y="668" width="1" height="6" fill="#c0c0c0" />
<rect x="459" y="668" width="1" height="7" fill="#c0c0c0" />
<rect x="467" y="668" width="1" height="11" fill="#c0c0c0" />
<rect x="475" y="668" width="1" height="15" fill="#c0c0c0" />
<rect x="483" y="668" width="1" height="16" fill="#c0c0c0" />
<rect x="491" y="668" width="1" height="17" fill="#c0c0c0" />
<rect x="499" y="668" width="1" height="16" fill="#c0c0c0" />
<rect x="507" y="668" width="1" height="14" fill="#c0c0c0" />
<rect x="515" y="668" width="1" height="12" fill="#c0c0c0" />
<rect x="523" y="668" width="1" height="11" fill="#c0c0c0" />
<rect x="531" y="668" width="1" height="10" fill="#c0c0c0" />
<rect x="539" y="668" width="1" height="7" fill="#c0c0c0" />
<rect x="547" y="668" width="1" height="3" fill="#c0c0c0" />
<rect x="555" y="668" width="1" height="2" fill="#c0c0c0" />
<rect x="563" y="668" width="1" height="1" fill="#c0c0c0" />
<rect x="571" y="666" width="1" height="3" fill="#c0c0c0" />
<rect x="579" y="667" width="1" height="2" fill="#c0c0c0" />
<rect x="587" y="668" width="1" height="1" fill="#c0c0c0" />
<rect x="595" y="668" width="1" height="2" fill="#c0c0c0" />
<rect x="603" y="668" width="1" height="3" fill="#c0c0c0" />
<rect x="611" y="668" width="1" height="4" fill="#c0c0c0" />
<rect x="619" y="668" width="1" height="2" fill="#c0c0c0" />
<rect x="627" y="668" width="1" height="1" fill="#c0c0c0" />
<rect x="635" y="667" width="1" height="2" fill="#c0c0c0" />
<rect x="643" y="666" width="1" height="3" fill="#c0c0c0" />
<rect x="651" y="664" width="1" height="5" fill="#c0c0c0" />
<rect x="659" y="661" width="1" height="8" fill="#c0c0c0" />
<rect x="667" y="658" width="1" height="11" fill="#c0c0c0" />
<rect x="675" y="659" width="1" height="10" fill="#c0c0c0" />
<rect x="683" y="655" width="1" height="14" fill="#c0c0c0" />
<rect x="691" y="649" width="1" height="20" fill="#c0c0c0" />
<rect x="699" y="646" width="1" height="23" fill="#c0c0c0" />
<rect x="707" y="643" width="1" height="26" fill="#c0c0c0" />
<rect x="715" y="638" width="1" height="31" fill="#c0c0c0" />
<rect x="723" y="635" width="1" height="34" fill="#c0c0c0" />
<rect x="731" y="637" width="1" height="32" fill="#c0c0c0" />
<rect x="739" y="636" width="1" height="33" fill="#c0c0c0" />
<rect x="747" y="638" width="1" height="31" fill="#c0c0c0" />
<rect x="755" y="640" width="1" height="29" fill="#c0c0c0" />
<rect x="763" y="645" width="1" height="24" fill="#c0c0c0" />
<rect x="771" y="650" width="1" height="19" fill="#c0c0c0" />
<rect x="779" y="654" width="1" height="15" fill="#c0c0c0" />
<rect x="787" y="662" width="1" height="7" fill="#c0c0c0" />
<rect x="795" y="668" width="1" height="1" fill="#c0c0c0" />
<rect x="803" y="668" width="1" height="6" fill="#c0c0c0" />
<rect x="811" y="668" width="1" height="10" fill="#c0c0c0" />
<rect x="819" y="668" width="1" height="14" fill="#c0c0c0" />
<rect x="827" y="668" width="1" height="16" fill="#c0c0c0" />
<rect x="835" y="668" width="1" height="17" fill="#c0c0c0" />
<rect x="843" y="668" width="1" height="17" fill="#c0c0c0" />
<rect x="851" y="668" width="1" height="16" fill="#c0c0c0" />
<rect x="859" y="668" width="1" height="12" fill="#c0c0c0" />
<rect x="867" y="668" width="1" height="6" fill="#c0c0c0" />
<rect x="875" y="668" width="1" height="1" fill="#c0c0c0" />
<rect x="883" y="663" width="1" height="6" fill="#c0c0c0" />
<rect x="891" y="659" width="1" height="10" fill="#c0c0c0" />
<rect x="899" y="653" width="1" height="16" fill="#c0c0c0" />
<rect x="907" y="644" width="1" height="25" fill="#c0c0c0" />
<rect x="915" y="634" width="1" height="35" fill="#c0c0c0" />
<rect x="923" y="626" width="1" height="43" fill="#c0c0c0" />
<rect x="931" y="622" width="1" height="47" fill="#c0c0c0" />
<rect x="939" y="620" width="1" height="49" fill="#c0c0c0" />
<rect x="947" y="615" width="1" height="54" fill="#c0c0c0" />
<rect x="955" y="605" width="1" height="64" fill="#c0c0c0" />
<rect x="963" y="599" width="1" height="70" fill="#c0c0c0" />
<rect x="971" y="594" width="1" height="75" fill="#c0c0c0" />
<rect x="979" y="592" width="1" height="77" fill="#c0c0c0" />
<rect x="987" y="593" width="1" height="76" fill="#c0c0c0" />
<rect x="995" y="593" width="1" height="76" fill="#c0c0c0" />
<rect x="1003" y="594" width="1" height="75" fill="#c0c0c0" />
<rect x="1011" y="597" width="1" height="72" fill="#c0c0c0" />
<rect x="1019" y="601" width="1" height="68" fill="#c0c0c0" />
<rect x="1027" y="604" width="1" height="65" fill="#c0c0c0" />
<rect x="1035" y="605" width="1" height="64" fill="#c0c0c0" />
<rect x="1043" y="607" width="1" height="62" fill="#c0c0c0" />
<rect x="1051" y="607" width="1" height="62" fill="#c0c0c0" />
<rect x="1059" y="604" width="1" height="65" fill="#c0c0c0" />
<rect x="1067" y="600" width="1" height="69" fill="#c0c0c0" />
<rect x="1075" y="599" width="1" height="70" fill="#c0c0c0" />
<rect x="1083" y="599" width="1" height="70" fill="#c0c0c0" />
<rect x="1091" y="600" width="1" height="69" fill="#c0c0c0" />
<rect x="1099" y="599" width="1" height="70" fill="#c0c0c0" />
<rect x="1107" y="603" width="1" height="66" fill="#c0c0c0" />
<rect x="1115" y="607" width="1" height="62" fill="#c0c0c0" />
<rect x="1123" y="610" width="1" height="59" fill="#c0c0c0" />
<rect x="1131" y="612" width="1" height="57" fill="#c0c0c0" />
<rect x="1139" y="615" width="1" height="54" fill="#c0c0c0" />
<rect x="1147" y="616" width="1" height="53" fill="#c0c0c0" />
<rect x="1155" y="613" width="1" height="56" fill="#c0c0c0" />
<rect x="1163" y="610" width="1" height="59" fill="#c0c0c0" />
<rect x="1171" y="608" width="1" height="61" fill="#c0c0c0" />
<rect x="1179" y="607" width="1" height="62" fill="#c0c0c0" />
<rect x="1187" y="608" width="1" height="61" fill="#c0c0c0" />
<rect x="1195" y="608" width="1" height="61" fill="#c0c0c0" />
<rect x="1203" y="607" width="1" height="62" fill="#c0c0c0" />
<rect x="1211" y="606" width="1" height="63" fill="#c0c0c0" />
<rect x="1219" y="608" width="1" height="61" fill="#c0c0c0" />
<rect x="1227" y="610" width="1" height="59" fill="#c0c0c0" />
<rect x="1235" y="611" width="1" height="58" fill="#c0c0c0" />
<rect x="1243" y="615" width="1" height="54" fill="#c0c0c0" />
<rect x="1251" y="612" width="1" height="57" fill="#c0c0c0" />
<rect x="1259" y="612" width="1" height="57" fill="#c0c0c0" />
<rect x="1267" y="613" width="1" height="56" fill="#c0c0c0" />
<rect x="1275" y="616" width="1" height="53" fill="#c0c0c0" />
<rect x="1283" y="617" width="1" height="52" fill="#c0c0c0" />
<rect x="1291" y="621" width="1" height="48" fill="#c0c0c0" />
<rect x="1299" y="628" width="1" height="41" fill="#c0c0c0" />
<rect x="1307" y="630" width="1" height="39" fill="#c0c0c0" />
<rect x="1315" y="632" width="1" height="37" fill="#c0c0c0" />
<rect x="1323" y="632" width="1" height="37" fill="#c0c0c0" />
<rect x="1331" y="630" width="1" height="39" fill="#c0c0c0" />
<rect x="1339" y="626" width="1" height="43" fill="#c0c0c0" />
<rect x="1347" y="612" width="1" height="57" fill="#c0c0c0" />
<rect x="1355" y="607" width="1" height="62" fill="#c0c0c0" />
<rect x="1363" y="603" width="1" height="66" fill="#c0c0c0" />
<rect x="1371" y="603" width="1" height="66" fill="#c0c0c0" />
<rect x="1379" y="602" width="1" height="67" fill="#c0c0c0" />
<rect x="1387" y="606" width="1" height="63" fill="#c0c0c0" />
<rect x="1395" y="609" width="1" height="60" fill="#c0c0c0" />
<rect x="1403" y="611" width="1" height="58" fill="#c0c0c0" />
<rect x="1411" y="604" width="1" height="65" fill="#c0c0c0" />
<polyline points="-1.5,664.8 0.5,664.8 12.5,664.8 24.6,666.8 34.6,669.2 43.7,674.5 52.7,682.9 60.7,689.9 70.8,699.0 80.8,709.0 90.9,718.0 100.9,726.1 108.9,731.1 116.0,734.5 125.0,735.7 141.1,736.7 148.1,738.1 161.1,738.7 173.2,738.1 181.2,737.1 193.3,735.7 211.3,735.5 227.4,733.1 235.4,730.7 251.5,727.7 267.6,725.5 277.6,722.1 285.6,719.0 297.7,716.6 313.8,715.6 325.8,715.4 340.5,714.0 350.5,712.6 360.6,710.0 372.6,704.0 384.7,697.0 396.7,689.9 408.8,683.5 420.8,680.5 432.9,677.9 442.9,675.9 465.0,675.9 481.1,677.9 493.1,679.9 503.2,680.9 507.2,682.3 521.2,682.9 541.3,682.5 551.3,680.9 561.4,678.5 571.4,675.9 581.5,673.9 593.5,671.9 607.6,670.5 625.6,669.8 645.7,669.4 661.8,667.8 671.8,665.8 683.5,662.8 692.5,660.4 706.6,656.8 716.6,651.8 724.7,648.4 732.7,647.2 740.7,643.7 748.8,641.1 756.8,640.1 776.9,640.1 784.9,642.7 795.0,646.8 805.0,652.4 813.0,656.8 821.1,662.8 829.1,667.8 837.1,671.9 845.2,675.9 853.2,679.9 861.2,681.9 869.3,682.9 877.3,680.9 889.3,677.9 897.4,674.9 907.4,669.2 915.4,662.8 923.5,655.8 931.5,649.8 939.5,643.7 947.6,636.7 955.6,630.7 963.6,623.7 971.7,617.6 979.7,612.2 987.7,607.6 995.8,603.6 1003.8,600.2 1011.8,598.6 1020.5,597.0 1028.5,596.0 1034.6,597.0 1044.6,597.6 1052.6,600.2 1060.7,601.2 1072.7,602.6 1092.8,602.6 1100.8,602.0 1124.9,602.0 1132.9,603.6 1141.0,605.2 1151.0,607.6 1161.1,608.6 1171.1,609.6 1181.1,611.0 1195.2,611.0 1205.2,610.0 1213.3,608.6 1221.3,608.0 1237.4,608.0 1253.4,609.0 1271.5,610.0 1279.5,612.2 1287.6,613.2 1297.6,614.6 1305.6,617.2 1313.7,618.6 1321.7,620.7 1327.7,622.3 1333.8,624.7 1341.8,625.7 1350.3,624.9 1357.8,623.3 1364.1,621.9 1369.5,619.8 1374.7,617.5 1385.5,612.0 1398.5,608.5 1411.5,605.5" fill="none" stroke="#ff0000" stroke-width="1" stroke-dasharray="3,3"/>
</g>
<line x1="1326" y1="627.5" x2="1401.3" y2="607.1" stroke="#ff0000" stroke-width="3" stroke-linecap="round"/>
<polygon points="1411.4,605.9 1400.7,612.5 1401.3,607.1 1398.1,602.8 1410.6,603.1" fill="#ff0000" stroke="#ff0000" stroke-width="0.8" stroke-linejoin="round"/>
<text x="-9.5" y="594.6" font-size="9.9" fill="#000" textLength="129.5" lengthAdjust="spacingAndGlyphs" text-rendering="geometricPrecision" >MACD(12,26,9) 0.6202 0.6046</text>
<g shape-rendering="crispEdges">
</g>
<text x="1650" y="593.2" font-size="9.9" fill="#000" textLength="28.5" lengthAdjust="spacingAndGlyphs" text-rendering="geometricPrecision" >0.8032</text>
<text x="1650" y="672" font-size="9.9" fill="#000" textLength="18.5" lengthAdjust="spacingAndGlyphs" text-rendering="geometricPrecision" >0.00</text>
<text x="1650" y="749.1" font-size="9.9" fill="#000" textLength="32" lengthAdjust="spacingAndGlyphs" text-rendering="geometricPrecision" >-0.7946</text>
<g shape-rendering="crispEdges">
<rect x="1647" y="584" width="2" height="1" fill="#000" />
<rect x="1647" y="668" width="2" height="1" fill="#000" />
<rect x="1647" y="751" width="2" height="1" fill="#000" />
</g>
<g shape-rendering="crispEdges">
<line x1="0" y1="790.5" x2="1646" y2="790.5" stroke="#c0c0c0" stroke-width="1" stroke-dasharray="3,3"/>
<line x1="0" y1="841.5" x2="1646" y2="841.5" stroke="#c0c0c0" stroke-width="1" stroke-dasharray="3,3"/>
<line x1="0" y1="902.5" x2="1646" y2="902.5" stroke="#c0c0c0" stroke-width="1" stroke-dasharray="3,3"/>
<path d="M0 846.5h8M8 845.5h3M35 887.5h3M38 888.5h5M43 889.5h2M51 897.5h8M67 871.5h4M71 872.5h4M75 873.5h5M80 874.5h6M86 875.5h5M91 876.5h3M95 878.5h3M98 879.5h4M102 878.5h2M104 877.5h4M115 863.5h3M118 864.5h3M121 865.5h3M131 875.5h9M148 883.5h5M153 882.5h3M171 858.5h5M176 857.5h12M195 869.5h2M203 878.5h2M205 877.5h2M208 875.5h2M210 874.5h2M219 861.5h3M222 860.5h2M224 859.5h2M226 858.5h4M230 857.5h3M233 856.5h4M237 857.5h2M240 859.5h2M242 860.5h2M244 859.5h2M246 858.5h2M249 856.5h2M252 856.5h2M255 858.5h2M257 859.5h6M263 858.5h3M266 857.5h2M268 856.5h2M270 855.5h2M273 853.5h2M275 852.5h2M277 853.5h2M279 854.5h2M281 855.5h3M308 862.5h3M311 863.5h6M317 862.5h2M320 860.5h2M332 845.5h3M335 846.5h3M338 847.5h2M340 846.5h2M345 842.5h2M347 841.5h7M354 840.5h3M363 833.5h4M367 832.5h4M380 843.5h16M396 844.5h3M399 845.5h7M406 844.5h2M408 843.5h3M418 849.5h9M428 847.5h2M435 840.5h2M437 841.5h2M439 842.5h4M444 844.5h2M448 848.5h2M451 850.5h4M455 851.5h5M466 859.5h2M468 860.5h3M471 861.5h2M473 862.5h4M477 861.5h2M480 859.5h2M482 858.5h2M484 857.5h3M487 856.5h2M489 855.5h2M491 854.5h2M493 853.5h2M496 851.5h2M499 849.5h2M504 845.5h2M508 844.5h3M511 845.5h2M513 846.5h7M520 845.5h3M524 845.5h2M527 847.5h2M529 848.5h3M539 836.5h2M541 835.5h2M543 834.5h2M545 833.5h2M547 832.5h2M549 833.5h7M562 841.5h2M581 844.5h2M586 848.5h10M597 850.5h2M602 854.5h2M619 834.5h7M626 833.5h2M628 834.5h2M631 836.5h3M634 837.5h4M638 836.5h2M640 835.5h3M643 834.5h4M647 833.5h4M651 832.5h2M653 831.5h2M656 829.5h2M658 828.5h2M692 817.5h2M695 819.5h3M698 820.5h5M703 819.5h4M707 818.5h3M710 817.5h2M712 816.5h2M714 815.5h3M717 814.5h5M736 825.5h2M746 830.5h8M754 829.5h2M764 845.5h3M767 846.5h5M772 847.5h8M788 861.5h8M796 862.5h2M799 864.5h2M801 865.5h2M812 859.5h2M815 861.5h2M817 862.5h4M827 855.5h13M840 854.5h5M845 853.5h2M848 851.5h2M850 850.5h2M876 819.5h2M879 821.5h3M882 822.5h8M890 821.5h3M896 817.5h2M908 804.5h2M915 798.5h9M929 804.5h2M931 805.5h3M934 806.5h6M940 805.5h2M956 791.5h2M960 794.5h2M962 795.5h5M967 794.5h3M970 793.5h2M977 799.5h2M980 801.5h2M984 804.5h2M986 805.5h7M993 804.5h8M1001 803.5h3M1009 809.5h2M1012 811.5h3M1015 812.5h2M1017 813.5h7M1024 812.5h4M1028 811.5h2M1030 810.5h2M1033 808.5h2M1035 807.5h6M1041 806.5h5M1046 805.5h2M1048 804.5h3M1060 794.5h3M1064 792.5h3M1073 797.5h2M1075 798.5h9M1084 799.5h3M1087 800.5h2M1089 801.5h4M1093 800.5h2M1096 798.5h2M1108 817.5h3M1111 816.5h4M1115 815.5h5M1120 814.5h5M1125 813.5h5M1130 812.5h4M1134 813.5h7M1141 812.5h2M1143 811.5h2M1145 810.5h2M1156 797.5h6M1162 796.5h7M1169 795.5h11M1180 796.5h2M1182 797.5h2M1184 798.5h2M1186 799.5h4M1190 798.5h2M1192 797.5h3M1195 796.5h2M1197 795.5h2M1199 794.5h2M1201 793.5h2M1203 792.5h3M1206 793.5h6M1216 799.5h2M1219 801.5h6M1225 800.5h4M1229 799.5h2M1231 798.5h2M1233 797.5h2M1259 810.5h2M1261 811.5h3M1264 812.5h4M1268 813.5h2M1270 814.5h2M1272 815.5h2M1274 816.5h4M1278 815.5h2M1280 814.5h3M1307 827.5h2M1309 828.5h7M1323 819.5h2M1325 818.5h2M1329 815.5h2M1342 800.5h2M1351 800.5h2M1355 804.5h7M1362 803.5h2M1372 810.5h7M1392 818.5h2M1397 814.5h2M1401 810.5h2M1403 809.5h2M1405 810.5h2M1408 812.5h3M11.5 846v1M12.5 847v2M13.5 849v2M14.5 851v2M15.5 853v2M16.5 855v2M17.5 857v2M18.5 859v1M19.5 860v3M20.5 863v2M21.5 865v2M22.5 867v2M23.5 869v2M24.5 871v2M25.5 873v2M26.5 875v2M27.5 877v1M28.5 878v1M29.5 879v2M30.5 881v1M31.5 882v1M32.5 883v1M33.5 884v2M34.5 886v1M45.5 890v1M46.5 891v1M47.5 892v2M48.5 894v1M49.5 895v1M50.5 896v1M59.5 896v1M60.5 892v4M61.5 889v3M62.5 886v3M63.5 882v4M64.5 879v3M65.5 876v3M66.5 872v4M94.5 877v1M108.5 875v2M109.5 873v2M110.5 871v2M111.5 870v1M112.5 868v2M113.5 866v2M114.5 864v2M124.5 866v2M125.5 868v1M126.5 869v1M127.5 870v1M128.5 871v1M129.5 872v1M130.5 873v2M140.5 876v1M141.5 877v1M142.5 878v1M143.5 879v2M144.5 881v1M145.5 882v1M146.5 883v1M147.5 884v1M156.5 880v2M157.5 878v2M158.5 876v2M159.5 875v1M160.5 873v2M161.5 871v2M162.5 870v1M163.5 869v1M164.5 867v2M165.5 866v1M166.5 865v1M167.5 863v2M168.5 862v1M169.5 861v1M170.5 859v2M188.5 858v2M189.5 860v1M190.5 861v2M191.5 863v1M192.5 864v2M193.5 866v1M194.5 867v2M197.5 870v2M198.5 872v1M199.5 873v1M200.5 874v1M201.5 875v2M202.5 877v1M207.5 876v1M212.5 872v2M213.5 870v2M214.5 869v1M215.5 867v2M216.5 866v1M217.5 864v2M218.5 862v2M239.5 858v1M248.5 857v1M251.5 855v1M254.5 857v1M272.5 854v1M284.5 856v2M285.5 858v2M286.5 860v2M287.5 862v2M288.5 864v2M289.5 866v2M290.5 868v2M291.5 870v1M292.5 871v1M293.5 872v2M294.5 874v1M295.5 875v1M296.5 876v1M297.5 877v1M298.5 878v1M299.5 879v1M300.5 876v2M301.5 874v2M302.5 873v1M303.5 870v3M304.5 868v2M305.5 866v2M306.5 864v2M307.5 863v1M319.5 861v1M322.5 859v1M323.5 858v1M324.5 857v1M325.5 855v2M326.5 853v2M327.5 851v2M328.5 849v2M329.5 847v2M330.5 845v2M331.5 844v1M342.5 845v1M343.5 844v1M344.5 843v1M357.5 839v1M358.5 838v1M359.5 837v1M360.5 836v1M361.5 835v1M362.5 834v1M371.5 831v1M372.5 832v2M373.5 834v1M374.5 835v2M375.5 837v1M376.5 838v2M377.5 840v1M378.5 841v1M379.5 842v1M411.5 842v1M412.5 843v1M413.5 844v1M414.5 845v1M415.5 846v1M416.5 847v1M417.5 848v1M427.5 848v1M430.5 846v1M431.5 844v2M432.5 843v1M433.5 842v1M434.5 841v1M443.5 843v1M446.5 845v1M447.5 846v2M450.5 849v1M460.5 852v1M461.5 853v1M462.5 854v1M463.5 855v2M464.5 857v1M465.5 858v1M479.5 860v1M495.5 852v1M498.5 850v1M501.5 848v1M502.5 847v1M503.5 846v1M506.5 844v1M507.5 843v1M523.5 844v1M526.5 846v1M532.5 847v1M533.5 845v2M534.5 844v1M535.5 842v2M536.5 841v1M537.5 839v2M538.5 837v2M556.5 834v1M557.5 835v1M558.5 836v1M559.5 837v2M560.5 839v1M561.5 840v1M564.5 840v1M565.5 838v2M566.5 836v2M567.5 834v2M568.5 832v2M569.5 830v2M570.5 828v2M571.5 827v1M572.5 828v2M573.5 830v2M574.5 832v2M575.5 834v2M576.5 836v2M577.5 838v2M578.5 840v1M579.5 841v2M580.5 843v1M583.5 845v1M584.5 846v1M585.5 847v1M596.5 849v1M599.5 851v1M600.5 852v1M601.5 853v1M604.5 853v1M605.5 852v1M606.5 851v1M607.5 849v2M608.5 848v1M609.5 847v1M610.5 845v2M611.5 844v1M612.5 843v1M613.5 842v1M614.5 841v1M615.5 839v2M616.5 838v1M617.5 837v1M618.5 835v2M630.5 835v1M655.5 830v1M660.5 827v1M661.5 826v1M662.5 825v1M663.5 824v1M664.5 823v1M665.5 822v1M666.5 821v1M667.5 820v1M668.5 822v2M669.5 824v3M670.5 827v2M671.5 829v3M672.5 832v2M673.5 834v2M674.5 836v2M675.5 839v1M676.5 838v1M677.5 836v2M678.5 834v2M679.5 832v2M680.5 830v2M681.5 828v2M682.5 826v2M683.5 825v1M684.5 824v1M685.5 823v1M686.5 822v1M687.5 821v1M688.5 820v1M689.5 818v2M690.5 817v1M691.5 816v1M694.5 818v1M722.5 813v1M723.5 814v1M724.5 815v2M725.5 817v2M726.5 819v2M727.5 821v2M728.5 823v2M729.5 825v1M730.5 826v2M731.5 828v1M732.5 829v1M733.5 828v1M734.5 827v1M735.5 826v1M738.5 824v1M739.5 823v1M740.5 824v1M741.5 825v1M742.5 826v1M743.5 827v1M744.5 828v1M745.5 829v1M756.5 830v2M757.5 832v2M758.5 834v2M759.5 836v2M760.5 838v2M761.5 840v2M762.5 842v1M763.5 843v2M780.5 848v2M781.5 850v2M782.5 852v2M783.5 854v1M784.5 855v2M785.5 857v2M786.5 859v1M787.5 860v1M798.5 863v1M803.5 866v1M804.5 865v1M805.5 864v1M806.5 863v1M807.5 862v1M808.5 861v1M809.5 860v1M810.5 859v1M811.5 858v1M814.5 860v1M821.5 861v1M822.5 860v1M823.5 859v1M824.5 858v1M825.5 857v1M826.5 856v1M847.5 852v1M852.5 848v2M853.5 846v2M854.5 845v1M855.5 843v2M856.5 842v1M857.5 840v2M858.5 838v2M859.5 837v1M860.5 836v1M861.5 835v1M862.5 834v1M863.5 832v2M864.5 831v1M865.5 830v1M866.5 828v2M867.5 827v1M868.5 826v1M869.5 825v1M870.5 824v1M871.5 823v1M872.5 822v1M873.5 820v2M874.5 819v1M875.5 818v1M878.5 820v1M893.5 820v1M894.5 819v1M895.5 818v1M898.5 816v1M899.5 815v1M900.5 814v1M901.5 813v1M902.5 812v1M903.5 810v2M904.5 809v1M905.5 808v1M906.5 806v2M907.5 805v1M910.5 803v1M911.5 802v1M912.5 801v1M913.5 800v1M914.5 799v1M924.5 799v1M925.5 800v1M926.5 801v1M927.5 802v1M928.5 803v1M942.5 804v1M943.5 803v1M944.5 802v1M945.5 801v1M946.5 800v1M947.5 799v1M948.5 798v1M949.5 797v1M950.5 796v1M951.5 795v1M952.5 794v1M953.5 792v2M954.5 791v1M955.5 790v1M958.5 792v1M959.5 793v1M972.5 794v1M973.5 795v1M974.5 796v1M975.5 797v1M976.5 798v1M979.5 800v1M982.5 802v1M983.5 803v1M1004.5 804v1M1005.5 805v1M1006.5 806v1M1007.5 807v1M1008.5 808v1M1011.5 810v1M1032.5 809v1M1051.5 803v1M1052.5 802v1M1053.5 801v1M1054.5 800v1M1055.5 799v1M1056.5 798v1M1057.5 797v1M1058.5 796v1M1059.5 795v1M1063.5 793v1M1067.5 791v1M1068.5 792v1M1069.5 793v1M1070.5 794v1M1071.5 795v1M1072.5 796v1M1095.5 799v1M1098.5 797v1M1099.5 798v1M1100.5 799v2M1101.5 801v3M1102.5 804v2M1103.5 806v2M1104.5 808v3M1105.5 811v3M1106.5 814v2M1107.5 816v1M1147.5 809v1M1148.5 807v2M1149.5 806v1M1150.5 804v2M1151.5 803v1M1152.5 802v1M1153.5 801v1M1154.5 799v2M1155.5 798v1M1212.5 794v1M1213.5 795v1M1214.5 796v1M1215.5 797v2M1218.5 800v1M1235.5 796v1M1236.5 798v3M1237.5 801v3M1238.5 804v3M1239.5 807v2M1240.5 809v3M1241.5 812v2M1242.5 814v3M1243.5 817v2M1244.5 816v1M1245.5 814v2M1246.5 812v2M1247.5 809v3M1248.5 807v2M1249.5 805v2M1250.5 803v2M1251.5 801v1M1252.5 802v1M1253.5 803v2M1254.5 805v1M1255.5 806v1M1256.5 807v1M1257.5 808v1M1258.5 809v1M1283.5 813v1M1284.5 814v2M1285.5 816v1M1286.5 817v1M1287.5 818v2M1288.5 820v1M1289.5 821v1M1290.5 822v1M1291.5 823v2M1292.5 825v2M1293.5 827v2M1294.5 829v2M1295.5 831v3M1296.5 834v2M1297.5 836v2M1298.5 838v1M1299.5 840v1M1300.5 839v1M1301.5 837v2M1302.5 835v2M1303.5 834v1M1304.5 832v2M1305.5 830v2M1306.5 828v2M1316.5 827v1M1317.5 826v1M1318.5 825v1M1319.5 824v1M1320.5 823v1M1321.5 821v2M1322.5 820v1M1327.5 817v1M1328.5 816v1M1331.5 814v1M1332.5 812v2M1333.5 811v1M1334.5 810v1M1335.5 809v1M1336.5 808v1M1337.5 807v1M1338.5 805v2M1339.5 804v1M1340.5 803v1M1341.5 801v2M1344.5 799v1M1345.5 797v2M1346.5 796v1M1347.5 795v1M1348.5 796v1M1349.5 797v2M1350.5 799v1M1353.5 801v2M1354.5 803v1M1364.5 804v1M1365.5 805v1M1366.5 806v1M1367.5 807v1M1368.5 808v1M1369.5 809v1M1370.5 810v1M1371.5 811v1M1379.5 809v1M1380.5 810v2M1381.5 812v2M1382.5 814v2M1383.5 816v2M1384.5 818v2M1385.5 820v2M1386.5 822v2M1387.5 824v1M1388.5 823v1M1389.5 822v1M1390.5 821v1M1391.5 819v2M1394.5 817v1M1395.5 816v1M1396.5 815v1M1399.5 812v2M1400.5 811v1M1407.5 811v1M1411.5 813v1" fill="none" stroke="#1e90ff" stroke-width="1" shape-rendering="crispEdges"/>
<rect x="1647" y="756" width="2" height="1" fill="#000" />
<rect x="1647" y="927" width="2" height="1" fill="#000" />
</g>
<line x1="1343.5" y1="806.5" x2="1419.0" y2="809.1" stroke="#ff0000" stroke-width="3" stroke-linecap="round"/>
<polygon points="1429.0,810.9 1416.8,814.1 1419.0,809.1 1417.2,804.1 1429.0,808.1" fill="#ff0000" stroke="#ff0000" stroke-width="0.8" stroke-linejoin="round"/>
<text x="-8" y="767" font-size="9.9" fill="#000" textLength="67.5" lengthAdjust="spacingAndGlyphs" text-rendering="geometricPrecision" >RSI(14) 66.4008</text>
<text x="1650" y="765.3" font-size="9.9" fill="#000" textLength="15.5" lengthAdjust="spacingAndGlyphs" text-rendering="geometricPrecision" >100</text>
<text x="1649.5" y="794.3" font-size="9.9" fill="#000" textLength="10.5" lengthAdjust="spacingAndGlyphs" text-rendering="geometricPrecision" >80</text>
<text x="1649.5" y="845.3" font-size="9.9" fill="#000" textLength="10.5" lengthAdjust="spacingAndGlyphs" text-rendering="geometricPrecision" >50</text>
<text x="1649.5" y="906.1" font-size="9.9" fill="#000" textLength="10.5" lengthAdjust="spacingAndGlyphs" text-rendering="geometricPrecision" >15</text>
<text x="1650" y="925.1" font-size="9.9" fill="#000" text-rendering="geometricPrecision" >0</text>
<g shape-rendering="crispEdges">
<rect x="51" y="929" width="1" height="3" fill="#000" />
<rect x="115" y="929" width="1" height="3" fill="#000" />
<rect x="179" y="929" width="1" height="3" fill="#000" />
<rect x="243" y="929" width="1" height="3" fill="#000" />
<rect x="307" y="929" width="1" height="3" fill="#000" />
<rect x="371" y="929" width="1" height="3" fill="#000" />
<rect x="435" y="929" width="1" height="3" fill="#000" />
<rect x="499" y="929" width="1" height="3" fill="#000" />
<rect x="563" y="929" width="1" height="3" fill="#000" />
<rect x="627" y="929" width="1" height="3" fill="#000" />
<rect x="691" y="929" width="1" height="3" fill="#000" />
<rect x="755" y="929" width="1" height="3" fill="#000" />
<rect x="819" y="929" width="1" height="3" fill="#000" />
<rect x="883" y="929" width="1" height="3" fill="#000" />
<rect x="947" y="929" width="1" height="3" fill="#000" />
<rect x="1011" y="929" width="1" height="3" fill="#000" />
<rect x="1075" y="929" width="1" height="3" fill="#000" />
<rect x="1139" y="929" width="1" height="3" fill="#000" />
<rect x="1203" y="929" width="1" height="3" fill="#000" />
<rect x="1267" y="929" width="1" height="3" fill="#000" />
<rect x="1331" y="929" width="1" height="3" fill="#000" />
<rect x="1395" y="929" width="1" height="3" fill="#000" />
</g>
<text x="-14.0" y="940.7" font-size="9.9" fill="#000" textLength="55.5" lengthAdjust="spacingAndGlyphs" text-rendering="geometricPrecision" >24 Nov 2021</text>
<text x="49.5" y="940.7" font-size="9.9" fill="#000" textLength="58" lengthAdjust="spacingAndGlyphs" text-rendering="geometricPrecision" >26 Nov 12:00</text>
<text x="113.5" y="940.7" font-size="9.9" fill="#000" textLength="58" lengthAdjust="spacingAndGlyphs" text-rendering="geometricPrecision" >29 Nov 20:00</text>
<text x="177.5" y="940.7" font-size="9.9" fill="#000" textLength="51.3" lengthAdjust="spacingAndGlyphs" text-rendering="geometricPrecision" >1 Dec 04:00</text>
<text x="241.5" y="940.7" font-size="9.9" fill="#000" textLength="51.3" lengthAdjust="spacingAndGlyphs" text-rendering="geometricPrecision" >2 Dec 12:00</text>
<text x="305.5" y="940.7" font-size="9.9" fill="#000" textLength="51.3" lengthAdjust="spacingAndGlyphs" text-rendering="geometricPrecision" >5 Dec 23:00</text>
<text x="369.5" y="940.7" font-size="9.9" fill="#000" textLength="51.3" lengthAdjust="spacingAndGlyphs" text-rendering="geometricPrecision" >7 Dec 04:00</text>
<text x="433.5" y="940.7" font-size="9.9" fill="#000" textLength="51.3" lengthAdjust="spacingAndGlyphs" text-rendering="geometricPrecision" >8 Dec 12:00</text>
<text x="497.5" y="940.7" font-size="9.9" fill="#000" textLength="51.3" lengthAdjust="spacingAndGlyphs" text-rendering="geometricPrecision" >9 Dec 20:00</text>
<text x="561.5" y="940.7" font-size="9.9" fill="#000" textLength="56.5" lengthAdjust="spacingAndGlyphs" text-rendering="geometricPrecision" >13 Dec 04:00</text>
<text x="625.5" y="940.7" font-size="9.9" fill="#000" textLength="56.5" lengthAdjust="spacingAndGlyphs" text-rendering="geometricPrecision" >14 Dec 12:00</text>
<text x="689.5" y="940.7" font-size="9.9" fill="#000" textLength="56.5" lengthAdjust="spacingAndGlyphs" text-rendering="geometricPrecision" >15 Dec 20:00</text>
<text x="753.5" y="940.7" font-size="9.9" fill="#000" textLength="56.5" lengthAdjust="spacingAndGlyphs" text-rendering="geometricPrecision" >17 Dec 04:00</text>
<text x="817.5" y="940.7" font-size="9.9" fill="#000" textLength="56.5" lengthAdjust="spacingAndGlyphs" text-rendering="geometricPrecision" >20 Dec 12:00</text>
<text x="881.5" y="940.7" font-size="9.9" fill="#000" textLength="56.5" lengthAdjust="spacingAndGlyphs" text-rendering="geometricPrecision" >21 Dec 20:00</text>
<text x="945.5" y="940.7" font-size="9.9" fill="#000" textLength="56.5" lengthAdjust="spacingAndGlyphs" text-rendering="geometricPrecision" >23 Dec 04:00</text>
<text x="1009.5" y="940.7" font-size="9.9" fill="#000" textLength="56.5" lengthAdjust="spacingAndGlyphs" text-rendering="geometricPrecision" >24 Dec 12:00</text>
<text x="1073.5" y="940.7" font-size="9.9" fill="#000" textLength="56.5" lengthAdjust="spacingAndGlyphs" text-rendering="geometricPrecision" >27 Dec 20:00</text>
<text x="1137.5" y="940.7" font-size="9.9" fill="#000" textLength="56.5" lengthAdjust="spacingAndGlyphs" text-rendering="geometricPrecision" >29 Dec 04:00</text>
<text x="1201.5" y="940.7" font-size="9.9" fill="#000" textLength="56.5" lengthAdjust="spacingAndGlyphs" text-rendering="geometricPrecision" >30 Dec 12:00</text>
<text x="1265.5" y="940.7" font-size="9.9" fill="#000" textLength="49" lengthAdjust="spacingAndGlyphs" text-rendering="geometricPrecision" >2 Jan 23:00</text>
<text x="1329.5" y="940.7" font-size="9.9" fill="#000" textLength="49" lengthAdjust="spacingAndGlyphs" text-rendering="geometricPrecision" >4 Jan 04:00</text>
<text x="1393.5" y="940.7" font-size="9.9" fill="#000" textLength="49" lengthAdjust="spacingAndGlyphs" text-rendering="geometricPrecision" >5 Jan 12:00</text>
</svg>
</body></html>
